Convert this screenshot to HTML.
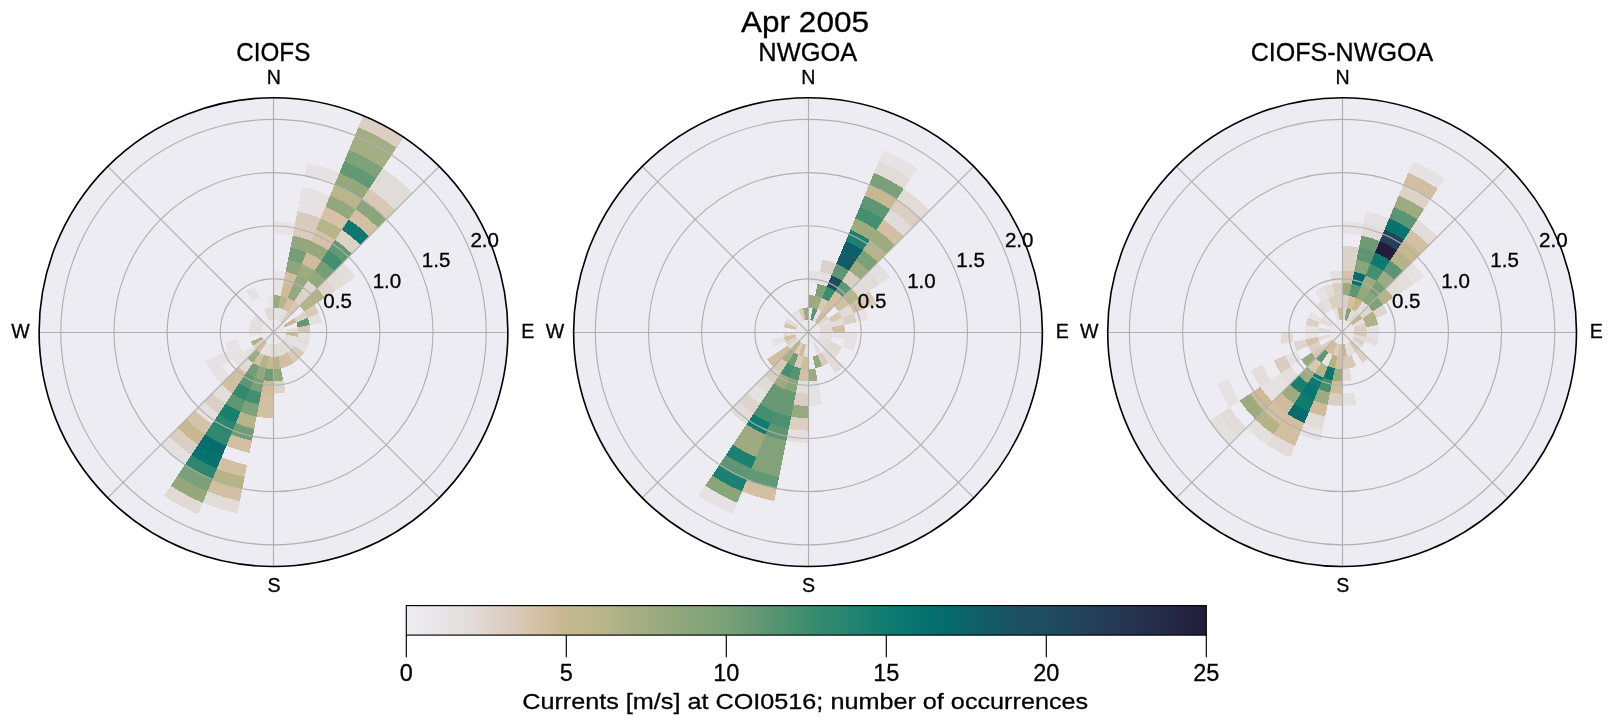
<!DOCTYPE html>
<html><head><meta charset="utf-8"><style>html,body{margin:0;padding:0;background:#fff;overflow:hidden}svg{display:block;will-change:transform}text{fill:#000;stroke:#000;stroke-width:0.3px;font-family:"Liberation Sans",sans-serif}</style></head>
<body><svg width="1611" height="724" viewBox="0 0 1611 724" font-family="Liberation Sans, sans-serif">
<text x="805" y="32.2" font-size="30" text-anchor="middle" textLength="128" lengthAdjust="spacingAndGlyphs">Apr 2005</text>
<circle cx="273.5" cy="332.1" r="234.4" fill="#edecf2"/>
<g shape-rendering="crispEdges">
<path d="M273.50 319.79L273.50 307.47A24.63 24.63 0 0 1 278.30 307.94L275.90 320.02A12.31 12.31 0 0 0 273.50 319.79Z" fill="#e6e2e3"/>
<path d="M273.50 307.47L273.50 295.16A36.94 36.94 0 0 1 280.71 295.87L278.30 307.94A24.63 24.63 0 0 0 273.50 307.47Z" fill="#98aa7f"/>
<path d="M273.50 295.16L273.50 282.84A49.26 49.26 0 0 1 283.11 283.79L280.71 295.87A36.94 36.94 0 0 0 273.50 295.16Z" fill="#e7e3e5"/>
<path d="M273.50 282.84L273.50 270.53A61.57 61.57 0 0 1 285.51 271.71L283.11 283.79A49.26 49.26 0 0 0 273.50 282.84Z" fill="#e8e5e8"/>
<path d="M273.50 233.59L273.50 221.27A110.83 110.83 0 0 1 295.12 223.40L292.72 235.48A98.51 98.51 0 0 0 273.50 233.59Z" fill="#e7e3e5"/>
<path d="M275.90 320.02L278.30 307.94A24.63 24.63 0 0 1 282.92 309.35L278.21 320.72A12.31 12.31 0 0 0 275.90 320.02Z" fill="#e6e2e3"/>
<path d="M278.30 307.94L280.71 295.87A36.94 36.94 0 0 1 287.64 297.97L282.92 309.35A24.63 24.63 0 0 0 278.30 307.94Z" fill="#bbb58b"/>
<path d="M280.71 295.87L283.11 283.79A49.26 49.26 0 0 1 292.35 286.59L287.64 297.97A36.94 36.94 0 0 0 280.71 295.87Z" fill="#cebb98"/>
<path d="M283.11 283.79L285.51 271.71A61.57 61.57 0 0 1 297.06 275.22L292.35 286.59A49.26 49.26 0 0 0 283.11 283.79Z" fill="#d2bea0"/>
<path d="M285.51 271.71L287.91 259.63A73.89 73.89 0 0 1 301.77 263.84L297.06 275.22A61.57 61.57 0 0 0 285.51 271.71Z" fill="#8da67c"/>
<path d="M287.91 259.63L290.32 247.56A86.20 86.20 0 0 1 306.49 252.46L301.77 263.84A73.89 73.89 0 0 0 287.91 259.63Z" fill="#759e76"/>
<path d="M290.32 247.56L292.72 235.48A98.51 98.51 0 0 1 311.20 241.09L306.49 252.46A86.20 86.20 0 0 0 290.32 247.56Z" fill="#94a87e"/>
<path d="M292.72 235.48L295.12 223.40A110.83 110.83 0 0 1 315.91 229.71L311.20 241.09A98.51 98.51 0 0 0 292.72 235.48Z" fill="#daccbe"/>
<path d="M295.12 223.40L297.52 211.32A123.14 123.14 0 0 1 320.62 218.33L315.91 229.71A110.83 110.83 0 0 0 295.12 223.40Z" fill="#d9cbbc"/>
<path d="M297.52 211.32L299.93 199.25A135.46 135.46 0 0 1 325.34 206.95L320.62 218.33A123.14 123.14 0 0 0 297.52 211.32Z" fill="#e6e2e3"/>
<path d="M299.93 199.25L302.33 187.17A147.77 147.77 0 0 1 330.05 195.58L325.34 206.95A135.46 135.46 0 0 0 299.93 199.25Z" fill="#e6e2e3"/>
<path d="M304.73 175.09L307.13 163.01A172.40 172.40 0 0 1 339.47 172.82L334.76 184.20A160.08 160.08 0 0 0 304.73 175.09Z" fill="#e6e2e3"/>
<path d="M278.21 320.72L282.92 309.35A24.63 24.63 0 0 1 287.18 311.62L280.34 321.86A12.31 12.31 0 0 0 278.21 320.72Z" fill="#e5e0e0"/>
<path d="M282.92 309.35L287.64 297.97A36.94 36.94 0 0 1 294.02 301.38L287.18 311.62A24.63 24.63 0 0 0 282.92 309.35Z" fill="#d3c0a2"/>
<path d="M287.64 297.97L292.35 286.59A49.26 49.26 0 0 1 300.87 291.14L294.02 301.38A36.94 36.94 0 0 0 287.64 297.97Z" fill="#94a87e"/>
<path d="M292.35 286.59L297.06 275.22A61.57 61.57 0 0 1 307.71 280.91L300.87 291.14A49.26 49.26 0 0 0 292.35 286.59Z" fill="#95a97e"/>
<path d="M297.06 275.22L301.77 263.84A73.89 73.89 0 0 1 314.55 270.67L307.71 280.91A61.57 61.57 0 0 0 297.06 275.22Z" fill="#9eab81"/>
<path d="M301.77 263.84L306.49 252.46A86.20 86.20 0 0 1 321.39 260.43L314.55 270.67A73.89 73.89 0 0 0 301.77 263.84Z" fill="#d0bc9a"/>
<path d="M306.49 252.46L311.20 241.09A98.51 98.51 0 0 1 328.23 250.19L321.39 260.43A86.20 86.20 0 0 0 306.49 252.46Z" fill="#94a87e"/>
<path d="M311.20 241.09L315.91 229.71A110.83 110.83 0 0 1 335.07 239.95L328.23 250.19A98.51 98.51 0 0 0 311.20 241.09Z" fill="#d5c2a8"/>
<path d="M315.91 229.71L320.62 218.33A123.14 123.14 0 0 1 341.91 229.71L335.07 239.95A110.83 110.83 0 0 0 315.91 229.71Z" fill="#b7b48a"/>
<path d="M320.62 218.33L325.34 206.95A135.46 135.46 0 0 1 348.76 219.47L341.91 229.71A123.14 123.14 0 0 0 320.62 218.33Z" fill="#d5c2a8"/>
<path d="M325.34 206.95L330.05 195.58A147.77 147.77 0 0 1 355.60 209.23L348.76 219.47A135.46 135.46 0 0 0 325.34 206.95Z" fill="#94a87e"/>
<path d="M330.05 195.58L334.76 184.20A160.08 160.08 0 0 1 362.44 198.99L355.60 209.23A147.77 147.77 0 0 0 330.05 195.58Z" fill="#bbb58b"/>
<path d="M334.76 184.20L339.47 172.82A172.40 172.40 0 0 1 369.28 188.76L362.44 198.99A160.08 160.08 0 0 0 334.76 184.20Z" fill="#94a87e"/>
<path d="M339.47 172.82L344.19 161.45A184.71 184.71 0 0 1 376.12 178.52L369.28 188.76A172.40 172.40 0 0 0 339.47 172.82Z" fill="#639874"/>
<path d="M344.19 161.45L348.90 150.07A197.03 197.03 0 0 1 382.96 168.28L376.12 178.52A184.71 184.71 0 0 0 344.19 161.45Z" fill="#7da178"/>
<path d="M348.90 150.07L353.61 138.69A209.34 209.34 0 0 1 389.80 158.04L382.96 168.28A197.03 197.03 0 0 0 348.90 150.07Z" fill="#a4ad83"/>
<path d="M353.61 138.69L358.32 127.32A221.66 221.66 0 0 1 396.65 147.80L389.80 158.04A209.34 209.34 0 0 0 353.61 138.69Z" fill="#a4ad83"/>
<path d="M358.32 127.32L363.04 115.94A233.97 233.97 0 0 1 403.49 137.56L396.65 147.80A221.66 221.66 0 0 0 358.32 127.32Z" fill="#dbcfc4"/>
<path d="M280.34 321.86L287.18 311.62A24.63 24.63 0 0 1 290.91 314.69L282.21 323.39A12.31 12.31 0 0 0 280.34 321.86Z" fill="#dbcfc4"/>
<path d="M287.18 311.62L294.02 301.38A36.94 36.94 0 0 1 299.62 305.98L290.91 314.69A24.63 24.63 0 0 0 287.18 311.62Z" fill="#d7c6b0"/>
<path d="M294.02 301.38L300.87 291.14A49.26 49.26 0 0 1 308.33 297.27L299.62 305.98A36.94 36.94 0 0 0 294.02 301.38Z" fill="#dcd2c8"/>
<path d="M300.87 291.14L307.71 280.91A61.57 61.57 0 0 1 317.04 288.56L308.33 297.27A49.26 49.26 0 0 0 300.87 291.14Z" fill="#ded6ce"/>
<path d="M307.71 280.91L314.55 270.67A73.89 73.89 0 0 1 325.74 279.86L317.04 288.56A61.57 61.57 0 0 0 307.71 280.91Z" fill="#94a87e"/>
<path d="M314.55 270.67L321.39 260.43A86.20 86.20 0 0 1 334.45 271.15L325.74 279.86A73.89 73.89 0 0 0 314.55 270.67Z" fill="#759e76"/>
<path d="M321.39 260.43L328.23 250.19A98.51 98.51 0 0 1 343.16 262.44L334.45 271.15A86.20 86.20 0 0 0 321.39 260.43Z" fill="#438f70"/>
<path d="M328.23 250.19L335.07 239.95A110.83 110.83 0 0 1 351.87 253.73L343.16 262.44A98.51 98.51 0 0 0 328.23 250.19Z" fill="#639874"/>
<path d="M335.07 239.95L341.91 229.71A123.14 123.14 0 0 1 360.57 245.03L351.87 253.73A110.83 110.83 0 0 0 335.07 239.95Z" fill="#dcd2c8"/>
<path d="M341.91 229.71L348.76 219.47A135.46 135.46 0 0 1 369.28 236.32L360.57 245.03A123.14 123.14 0 0 0 341.91 229.71Z" fill="#0b7870"/>
<path d="M348.76 219.47L355.60 209.23A147.77 147.77 0 0 1 377.99 227.61L369.28 236.32A135.46 135.46 0 0 0 348.76 219.47Z" fill="#d3c0a2"/>
<path d="M355.60 209.23L362.44 198.99A160.08 160.08 0 0 1 386.70 218.90L377.99 227.61A147.77 147.77 0 0 0 355.60 209.23Z" fill="#89a57a"/>
<path d="M362.44 198.99L369.28 188.76A172.40 172.40 0 0 1 395.40 210.20L386.70 218.90A160.08 160.08 0 0 0 362.44 198.99Z" fill="#d8c8b6"/>
<path d="M369.28 188.76L376.12 178.52A184.71 184.71 0 0 1 404.11 201.49L395.40 210.20A172.40 172.40 0 0 0 369.28 188.76Z" fill="#e2dcd8"/>
<path d="M376.12 178.52L382.96 168.28A197.03 197.03 0 0 1 412.82 192.78L404.11 201.49A184.71 184.71 0 0 0 376.12 178.52Z" fill="#e2dcd8"/>
<path d="M299.62 305.98L308.33 297.27A49.26 49.26 0 0 1 314.46 304.73L304.22 311.58A36.94 36.94 0 0 0 299.62 305.98Z" fill="#b7b48a"/>
<path d="M308.33 297.27L317.04 288.56A61.57 61.57 0 0 1 324.69 297.89L314.46 304.73A49.26 49.26 0 0 0 308.33 297.27Z" fill="#b2b288"/>
<path d="M317.04 288.56L325.74 279.86A73.89 73.89 0 0 1 334.93 291.05L324.69 297.89A61.57 61.57 0 0 0 317.04 288.56Z" fill="#ded6ce"/>
<path d="M325.74 279.86L334.45 271.15A86.20 86.20 0 0 1 345.17 284.21L334.93 291.05A73.89 73.89 0 0 0 325.74 279.86Z" fill="#e2dcd8"/>
<path d="M334.45 271.15L343.16 262.44A98.51 98.51 0 0 1 355.41 277.37L345.17 284.21A86.20 86.20 0 0 0 334.45 271.15Z" fill="#e3dedb"/>
<path d="M283.74 325.26L293.98 318.42A24.63 24.63 0 0 1 296.25 322.68L284.88 327.39A12.31 12.31 0 0 0 283.74 325.26Z" fill="#c7b890"/>
<path d="M304.22 311.58L314.46 304.73A49.26 49.26 0 0 1 319.01 313.25L307.63 317.96A36.94 36.94 0 0 0 304.22 311.58Z" fill="#d9cbbc"/>
<path d="M296.25 322.68L307.63 317.96A36.94 36.94 0 0 1 309.73 324.89L297.66 327.30A24.63 24.63 0 0 0 296.25 322.68Z" fill="#639874"/>
<path d="M307.63 317.96L319.01 313.25A49.26 49.26 0 0 1 321.81 322.49L309.73 324.89A36.94 36.94 0 0 0 307.63 317.96Z" fill="#e5e0e0"/>
<path d="M297.66 327.30L309.73 324.89A36.94 36.94 0 0 1 310.44 332.10L298.13 332.10A24.63 24.63 0 0 0 297.66 327.30Z" fill="#d8c8b6"/>
<path d="M285.81 332.10L298.13 332.10A24.63 24.63 0 0 1 297.66 336.90L285.58 334.50A12.31 12.31 0 0 0 285.81 332.10Z" fill="#cbba94"/>
<path d="M298.13 332.10L310.44 332.10A36.94 36.94 0 0 1 309.73 339.31L297.66 336.90A24.63 24.63 0 0 0 298.13 332.10Z" fill="#e5e0e0"/>
<path d="M285.58 334.50L297.66 336.90A24.63 24.63 0 0 1 296.25 341.52L284.88 336.81A12.31 12.31 0 0 0 285.58 334.50Z" fill="#e5e0e0"/>
<path d="M297.66 336.90L309.73 339.31A36.94 36.94 0 0 1 307.63 346.24L296.25 341.52A24.63 24.63 0 0 0 297.66 336.90Z" fill="#e3dedb"/>
<path d="M284.88 336.81L296.25 341.52A24.63 24.63 0 0 1 293.98 345.78L283.74 338.94A12.31 12.31 0 0 0 284.88 336.81Z" fill="#e5e0e0"/>
<path d="M296.25 341.52L307.63 346.24A36.94 36.94 0 0 1 304.22 352.62L293.98 345.78A24.63 24.63 0 0 0 296.25 341.52Z" fill="#e6e2e3"/>
<path d="M283.74 338.94L293.98 345.78A24.63 24.63 0 0 1 290.91 349.51L282.21 340.81A12.31 12.31 0 0 0 283.74 338.94Z" fill="#e2dcd8"/>
<path d="M293.98 345.78L304.22 352.62A36.94 36.94 0 0 1 299.62 358.22L290.91 349.51A24.63 24.63 0 0 0 293.98 345.78Z" fill="#d9cbbc"/>
<path d="M282.21 340.81L290.91 349.51A24.63 24.63 0 0 1 287.18 352.58L280.34 342.34A12.31 12.31 0 0 0 282.21 340.81Z" fill="#e3dedb"/>
<path d="M290.91 349.51L299.62 358.22A36.94 36.94 0 0 1 294.02 362.82L287.18 352.58A24.63 24.63 0 0 0 290.91 349.51Z" fill="#d9cbbc"/>
<path d="M280.34 342.34L287.18 352.58A24.63 24.63 0 0 1 282.92 354.85L278.21 343.48A12.31 12.31 0 0 0 280.34 342.34Z" fill="#e1d9d4"/>
<path d="M287.18 352.58L294.02 362.82A36.94 36.94 0 0 1 287.64 366.23L282.92 354.85A24.63 24.63 0 0 0 287.18 352.58Z" fill="#d2bea0"/>
<path d="M278.21 343.48L282.92 354.85A24.63 24.63 0 0 1 278.30 356.26L275.90 344.18A12.31 12.31 0 0 0 278.21 343.48Z" fill="#e2dcd8"/>
<path d="M282.92 354.85L287.64 366.23A36.94 36.94 0 0 1 280.71 368.33L278.30 356.26A24.63 24.63 0 0 0 282.92 354.85Z" fill="#d2bea0"/>
<path d="M275.90 344.18L278.30 356.26A24.63 24.63 0 0 1 273.50 356.73L273.50 344.41A12.31 12.31 0 0 0 275.90 344.18Z" fill="#e1d9d4"/>
<path d="M278.30 356.26L280.71 368.33A36.94 36.94 0 0 1 273.50 369.04L273.50 356.73A24.63 24.63 0 0 0 278.30 356.26Z" fill="#b7b48a"/>
<path d="M280.71 368.33L283.11 380.41A49.26 49.26 0 0 1 273.50 381.36L273.50 369.04A36.94 36.94 0 0 0 280.71 368.33Z" fill="#94a87e"/>
<path d="M283.11 380.41L285.51 392.49A61.57 61.57 0 0 1 273.50 393.67L273.50 381.36A49.26 49.26 0 0 0 283.11 380.41Z" fill="#dcd2c8"/>
<path d="M273.50 344.41L273.50 356.73A24.63 24.63 0 0 1 268.70 356.26L271.10 344.18A12.31 12.31 0 0 0 273.50 344.41Z" fill="#e2dcd8"/>
<path d="M273.50 356.73L273.50 369.04A36.94 36.94 0 0 1 266.29 368.33L268.70 356.26A24.63 24.63 0 0 0 273.50 356.73Z" fill="#c7b890"/>
<path d="M273.50 369.04L273.50 381.36A49.26 49.26 0 0 1 263.89 380.41L266.29 368.33A36.94 36.94 0 0 0 273.50 369.04Z" fill="#6e9c75"/>
<path d="M273.50 381.36L273.50 393.67A61.57 61.57 0 0 1 261.49 392.49L263.89 380.41A49.26 49.26 0 0 0 273.50 381.36Z" fill="#d0bc9a"/>
<path d="M273.50 393.67L273.50 405.99A73.89 73.89 0 0 1 259.09 404.57L261.49 392.49A61.57 61.57 0 0 0 273.50 393.67Z" fill="#d3c0a2"/>
<path d="M273.50 405.99L273.50 418.30A86.20 86.20 0 0 1 256.68 416.64L259.09 404.57A73.89 73.89 0 0 0 273.50 405.99Z" fill="#d3c0a2"/>
<path d="M271.10 344.18L268.70 356.26A24.63 24.63 0 0 1 264.08 354.85L268.79 343.48A12.31 12.31 0 0 0 271.10 344.18Z" fill="#e5e0e0"/>
<path d="M268.70 356.26L266.29 368.33A36.94 36.94 0 0 1 259.36 366.23L264.08 354.85A24.63 24.63 0 0 0 268.70 356.26Z" fill="#b2b288"/>
<path d="M266.29 368.33L263.89 380.41A49.26 49.26 0 0 1 254.65 377.61L259.36 366.23A36.94 36.94 0 0 0 266.29 368.33Z" fill="#94a87e"/>
<path d="M263.89 380.41L261.49 392.49A61.57 61.57 0 0 1 249.94 388.98L254.65 377.61A49.26 49.26 0 0 0 263.89 380.41Z" fill="#79a077"/>
<path d="M261.49 392.49L259.09 404.57A73.89 73.89 0 0 1 245.23 400.36L249.94 388.98A61.57 61.57 0 0 0 261.49 392.49Z" fill="#438f70"/>
<path d="M259.09 404.57L256.68 416.64A86.20 86.20 0 0 1 240.51 411.74L245.23 400.36A73.89 73.89 0 0 0 259.09 404.57Z" fill="#7da178"/>
<path d="M256.68 416.64L254.28 428.72A98.51 98.51 0 0 1 235.80 423.11L240.51 411.74A86.20 86.20 0 0 0 256.68 416.64Z" fill="#b7b48a"/>
<path d="M254.28 428.72L251.88 440.80A110.83 110.83 0 0 1 231.09 434.49L235.80 423.11A98.51 98.51 0 0 0 254.28 428.72Z" fill="#719d76"/>
<path d="M251.88 440.80L249.48 452.88A123.14 123.14 0 0 1 226.38 445.87L231.09 434.49A110.83 110.83 0 0 0 251.88 440.80Z" fill="#d3c0a2"/>
<path d="M247.07 464.95L244.67 477.03A147.77 147.77 0 0 1 216.95 468.62L221.66 457.25A135.46 135.46 0 0 0 247.07 464.95Z" fill="#d3c0a2"/>
<path d="M244.67 477.03L242.27 489.11A160.08 160.08 0 0 1 212.24 480.00L216.95 468.62A147.77 147.77 0 0 0 244.67 477.03Z" fill="#b6b389"/>
<path d="M242.27 489.11L239.87 501.19A172.40 172.40 0 0 1 207.53 491.38L212.24 480.00A160.08 160.08 0 0 0 242.27 489.11Z" fill="#d3c0a2"/>
<path d="M239.87 501.19L237.46 513.26A184.71 184.71 0 0 1 202.81 502.75L207.53 491.38A172.40 172.40 0 0 0 239.87 501.19Z" fill="#e2dcd8"/>
<path d="M268.79 343.48L264.08 354.85A24.63 24.63 0 0 1 259.82 352.58L266.66 342.34A12.31 12.31 0 0 0 268.79 343.48Z" fill="#e6e2e3"/>
<path d="M264.08 354.85L259.36 366.23A36.94 36.94 0 0 1 252.98 362.82L259.82 352.58A24.63 24.63 0 0 0 264.08 354.85Z" fill="#d3c0a2"/>
<path d="M259.36 366.23L254.65 377.61A49.26 49.26 0 0 1 246.13 373.06L252.98 362.82A36.94 36.94 0 0 0 259.36 366.23Z" fill="#759e76"/>
<path d="M254.65 377.61L249.94 388.98A61.57 61.57 0 0 1 239.29 383.29L246.13 373.06A49.26 49.26 0 0 0 254.65 377.61Z" fill="#5e9673"/>
<path d="M249.94 388.98L245.23 400.36A73.89 73.89 0 0 1 232.45 393.53L239.29 383.29A61.57 61.57 0 0 0 249.94 388.98Z" fill="#33896f"/>
<path d="M245.23 400.36L240.51 411.74A86.20 86.20 0 0 1 225.61 403.77L232.45 393.53A73.89 73.89 0 0 0 245.23 400.36Z" fill="#5e9673"/>
<path d="M240.51 411.74L235.80 423.11A98.51 98.51 0 0 1 218.77 414.01L225.61 403.77A86.20 86.20 0 0 0 240.51 411.74Z" fill="#198070"/>
<path d="M235.80 423.11L231.09 434.49A110.83 110.83 0 0 1 211.93 424.25L218.77 414.01A98.51 98.51 0 0 0 235.80 423.11Z" fill="#2c876f"/>
<path d="M231.09 434.49L226.38 445.87A123.14 123.14 0 0 1 205.09 434.49L211.93 424.25A110.83 110.83 0 0 0 231.09 434.49Z" fill="#30886f"/>
<path d="M226.38 445.87L221.66 457.25A135.46 135.46 0 0 1 198.24 444.73L205.09 434.49A123.14 123.14 0 0 0 226.38 445.87Z" fill="#066c6e"/>
<path d="M221.66 457.25L216.95 468.62A147.77 147.77 0 0 1 191.40 454.97L198.24 444.73A135.46 135.46 0 0 0 221.66 457.25Z" fill="#077370"/>
<path d="M216.95 468.62L212.24 480.00A160.08 160.08 0 0 1 184.56 465.21L191.40 454.97A147.77 147.77 0 0 0 216.95 468.62Z" fill="#2d876f"/>
<path d="M212.24 480.00L207.53 491.38A172.40 172.40 0 0 1 177.72 475.44L184.56 465.21A160.08 160.08 0 0 0 212.24 480.00Z" fill="#79a077"/>
<path d="M207.53 491.38L202.81 502.75A184.71 184.71 0 0 1 170.88 485.68L177.72 475.44A172.40 172.40 0 0 0 207.53 491.38Z" fill="#94a87e"/>
<path d="M202.81 502.75L198.10 514.13A197.03 197.03 0 0 1 164.04 495.92L170.88 485.68A184.71 184.71 0 0 0 202.81 502.75Z" fill="#e1d9d4"/>
<path d="M266.66 342.34L259.82 352.58A24.63 24.63 0 0 1 256.09 349.51L264.79 340.81A12.31 12.31 0 0 0 266.66 342.34Z" fill="#d2bea0"/>
<path d="M259.82 352.58L252.98 362.82A36.94 36.94 0 0 1 247.38 358.22L256.09 349.51A24.63 24.63 0 0 0 259.82 352.58Z" fill="#9eab81"/>
<path d="M252.98 362.82L246.13 373.06A49.26 49.26 0 0 1 238.67 366.93L247.38 358.22A36.94 36.94 0 0 0 252.98 362.82Z" fill="#e1d9d4"/>
<path d="M246.13 373.06L239.29 383.29A61.57 61.57 0 0 1 229.96 375.64L238.67 366.93A49.26 49.26 0 0 0 246.13 373.06Z" fill="#d3c0a2"/>
<path d="M239.29 383.29L232.45 393.53A73.89 73.89 0 0 1 221.26 384.34L229.96 375.64A61.57 61.57 0 0 0 239.29 383.29Z" fill="#d2bea0"/>
<path d="M232.45 393.53L225.61 403.77A86.20 86.20 0 0 1 212.55 393.05L221.26 384.34A73.89 73.89 0 0 0 232.45 393.53Z" fill="#e3dedb"/>
<path d="M225.61 403.77L218.77 414.01A98.51 98.51 0 0 1 203.84 401.76L212.55 393.05A86.20 86.20 0 0 0 225.61 403.77Z" fill="#dbcfc4"/>
<path d="M218.77 414.01L211.93 424.25A110.83 110.83 0 0 1 195.13 410.47L203.84 401.76A98.51 98.51 0 0 0 218.77 414.01Z" fill="#e5e0e0"/>
<path d="M211.93 424.25L205.09 434.49A123.14 123.14 0 0 1 186.43 419.17L195.13 410.47A110.83 110.83 0 0 0 211.93 424.25Z" fill="#d5c2a8"/>
<path d="M205.09 434.49L198.24 444.73A135.46 135.46 0 0 1 177.72 427.88L186.43 419.17A123.14 123.14 0 0 0 205.09 434.49Z" fill="#c7b890"/>
<path d="M198.24 444.73L191.40 454.97A147.77 147.77 0 0 1 169.01 436.59L177.72 427.88A135.46 135.46 0 0 0 198.24 444.73Z" fill="#dbcfc4"/>
<path d="M191.40 454.97L184.56 465.21A160.08 160.08 0 0 1 160.30 445.30L169.01 436.59A147.77 147.77 0 0 0 191.40 454.97Z" fill="#e5e0e0"/>
<path d="M264.79 340.81L256.09 349.51A24.63 24.63 0 0 1 253.02 345.78L263.26 338.94A12.31 12.31 0 0 0 264.79 340.81Z" fill="#dbcfc4"/>
<path d="M256.09 349.51L247.38 358.22A36.94 36.94 0 0 1 242.78 352.62L253.02 345.78A24.63 24.63 0 0 0 256.09 349.51Z" fill="#e5e0e0"/>
<path d="M229.96 375.64L221.26 384.34A73.89 73.89 0 0 1 212.07 373.15L222.31 366.31A61.57 61.57 0 0 0 229.96 375.64Z" fill="#e6e2e3"/>
<path d="M263.26 338.94L253.02 345.78A24.63 24.63 0 0 1 250.75 341.52L262.12 336.81A12.31 12.31 0 0 0 263.26 338.94Z" fill="#b2b288"/>
<path d="M242.78 352.62L232.54 359.47A49.26 49.26 0 0 1 227.99 350.95L239.37 346.24A36.94 36.94 0 0 0 242.78 352.62Z" fill="#e7e3e5"/>
<path d="M232.54 359.47L222.31 366.31A61.57 61.57 0 0 1 216.62 355.66L227.99 350.95A49.26 49.26 0 0 0 232.54 359.47Z" fill="#e6e2e3"/>
<path d="M222.31 366.31L212.07 373.15A73.89 73.89 0 0 1 205.24 360.37L216.62 355.66A61.57 61.57 0 0 0 222.31 366.31Z" fill="#e6e2e3"/>
<path d="M239.37 346.24L227.99 350.95A49.26 49.26 0 0 1 225.19 341.71L237.27 339.31A36.94 36.94 0 0 0 239.37 346.24Z" fill="#e7e3e5"/>
<path d="M261.42 334.50L249.34 336.90A24.63 24.63 0 0 1 248.87 332.10L261.19 332.10A12.31 12.31 0 0 0 261.42 334.50Z" fill="#e8e5e8"/>
<path d="M261.19 332.10L248.87 332.10A24.63 24.63 0 0 1 249.34 327.30L261.42 329.70A12.31 12.31 0 0 0 261.19 332.10Z" fill="#e5e0e0"/>
<path d="M261.42 329.70L249.34 327.30A24.63 24.63 0 0 1 250.75 322.68L262.12 327.39A12.31 12.31 0 0 0 261.42 329.70Z" fill="#e3dedb"/>
<path d="M262.12 327.39L250.75 322.68A24.63 24.63 0 0 1 253.02 318.42L263.26 325.26A12.31 12.31 0 0 0 262.12 327.39Z" fill="#e5e0e0"/>
<path d="M263.26 325.26L253.02 318.42A24.63 24.63 0 0 1 256.09 314.69L264.79 323.39A12.31 12.31 0 0 0 263.26 325.26Z" fill="#e5e0e0"/>
<path d="M252.98 301.38L246.13 291.14A49.26 49.26 0 0 1 254.65 286.59L259.36 297.97A36.94 36.94 0 0 0 252.98 301.38Z" fill="#e6e2e3"/>
<path d="M268.79 320.72L264.08 309.35A24.63 24.63 0 0 1 268.70 307.94L271.10 320.02A12.31 12.31 0 0 0 268.79 320.72Z" fill="#e1d9d4"/>
<path d="M271.10 320.02L268.70 307.94A24.63 24.63 0 0 1 273.50 307.47L273.50 319.79A12.31 12.31 0 0 0 271.10 320.02Z" fill="#e2dcd8"/>
<path d="M268.70 307.94L266.29 295.87A36.94 36.94 0 0 1 273.50 295.16L273.50 307.47A24.63 24.63 0 0 0 268.70 307.94Z" fill="#e8e5e8"/>
<path d="M273.50 332.10L273.50 319.79A12.31 12.31 0 0 1 275.90 320.02L273.50 332.10Z" fill="#e9e7ea"/>
<path d="M273.50 332.10L275.90 320.02A12.31 12.31 0 0 1 278.21 320.72L273.50 332.10Z" fill="#e9e7ea"/>
<path d="M273.50 332.10L278.21 320.72A12.31 12.31 0 0 1 280.34 321.86L273.50 332.10Z" fill="#e9e7ea"/>
<path d="M273.50 332.10L280.34 321.86A12.31 12.31 0 0 1 282.21 323.39L273.50 332.10Z" fill="#e9e7ea"/>
<path d="M273.50 332.10L282.21 323.39A12.31 12.31 0 0 1 283.74 325.26L273.50 332.10Z" fill="#e9e7ea"/>
<path d="M273.50 332.10L283.74 325.26A12.31 12.31 0 0 1 284.88 327.39L273.50 332.10Z" fill="#e9e7ea"/>
<path d="M273.50 332.10L284.88 327.39A12.31 12.31 0 0 1 285.58 329.70L273.50 332.10Z" fill="#e9e7ea"/>
<path d="M273.50 332.10L285.58 329.70A12.31 12.31 0 0 1 285.81 332.10L273.50 332.10Z" fill="#e9e7ea"/>
<path d="M273.50 332.10L285.81 332.10A12.31 12.31 0 0 1 285.58 334.50L273.50 332.10Z" fill="#e9e7ea"/>
<path d="M273.50 332.10L285.58 334.50A12.31 12.31 0 0 1 284.88 336.81L273.50 332.10Z" fill="#e9e7ea"/>
<path d="M273.50 332.10L284.88 336.81A12.31 12.31 0 0 1 283.74 338.94L273.50 332.10Z" fill="#e9e7ea"/>
<path d="M273.50 332.10L283.74 338.94A12.31 12.31 0 0 1 282.21 340.81L273.50 332.10Z" fill="#e9e7ea"/>
<path d="M273.50 332.10L282.21 340.81A12.31 12.31 0 0 1 280.34 342.34L273.50 332.10Z" fill="#e9e7ea"/>
<path d="M273.50 332.10L280.34 342.34A12.31 12.31 0 0 1 278.21 343.48L273.50 332.10Z" fill="#e9e7ea"/>
<path d="M273.50 332.10L278.21 343.48A12.31 12.31 0 0 1 275.90 344.18L273.50 332.10Z" fill="#e9e7ea"/>
<path d="M273.50 332.10L275.90 344.18A12.31 12.31 0 0 1 273.50 344.41L273.50 332.10Z" fill="#e9e7ea"/>
<path d="M273.50 332.10L273.50 344.41A12.31 12.31 0 0 1 271.10 344.18L273.50 332.10Z" fill="#e9e7ea"/>
<path d="M273.50 332.10L271.10 344.18A12.31 12.31 0 0 1 268.79 343.48L273.50 332.10Z" fill="#e9e7ea"/>
<path d="M273.50 332.10L268.79 343.48A12.31 12.31 0 0 1 266.66 342.34L273.50 332.10Z" fill="#e9e7ea"/>
<path d="M273.50 332.10L266.66 342.34A12.31 12.31 0 0 1 264.79 340.81L273.50 332.10Z" fill="#e9e7ea"/>
<path d="M273.50 332.10L264.79 340.81A12.31 12.31 0 0 1 263.26 338.94L273.50 332.10Z" fill="#e9e7ea"/>
<path d="M273.50 332.10L263.26 338.94A12.31 12.31 0 0 1 262.12 336.81L273.50 332.10Z" fill="#e9e7ea"/>
<path d="M273.50 332.10L262.12 336.81A12.31 12.31 0 0 1 261.42 334.50L273.50 332.10Z" fill="#e9e7ea"/>
<path d="M273.50 332.10L261.42 334.50A12.31 12.31 0 0 1 261.19 332.10L273.50 332.10Z" fill="#e9e7ea"/>
<path d="M273.50 332.10L261.19 332.10A12.31 12.31 0 0 1 261.42 329.70L273.50 332.10Z" fill="#e9e7ea"/>
<path d="M273.50 332.10L261.42 329.70A12.31 12.31 0 0 1 262.12 327.39L273.50 332.10Z" fill="#e9e7ea"/>
<path d="M273.50 332.10L262.12 327.39A12.31 12.31 0 0 1 263.26 325.26L273.50 332.10Z" fill="#e9e7ea"/>
<path d="M273.50 332.10L263.26 325.26A12.31 12.31 0 0 1 264.79 323.39L273.50 332.10Z" fill="#e9e7ea"/>
<path d="M273.50 332.10L264.79 323.39A12.31 12.31 0 0 1 266.66 321.86L273.50 332.10Z" fill="#e9e7ea"/>
<path d="M273.50 332.10L266.66 321.86A12.31 12.31 0 0 1 268.79 320.72L273.50 332.10Z" fill="#e9e7ea"/>
<path d="M273.50 332.10L268.79 320.72A12.31 12.31 0 0 1 271.10 320.02L273.50 332.10Z" fill="#e9e7ea"/>
<path d="M273.50 332.10L271.10 320.02A12.31 12.31 0 0 1 273.50 319.79L273.50 332.10Z" fill="#e9e7ea"/>
<path d="M285.58 329.70L297.66 327.30A24.63 24.63 0 0 1 298.13 332.10L285.81 332.10A12.31 12.31 0 0 0 285.58 329.70Z" fill="#e2dcd8"/>
<path d="M247.38 358.22L238.67 366.93A49.26 49.26 0 0 1 232.54 359.47L242.78 352.62A36.94 36.94 0 0 0 247.38 358.22Z" fill="#e6e2e3"/>
<path d="M293.98 318.42L304.22 311.58A36.94 36.94 0 0 1 307.63 317.96L296.25 322.68A24.63 24.63 0 0 0 293.98 318.42Z" fill="#dcd2c8"/>
</g>
<circle cx="273.5" cy="332.1" r="53.17" fill="none" stroke="#b0b0b0" stroke-width="1.15"/>
<circle cx="273.5" cy="332.1" r="106.35" fill="none" stroke="#b0b0b0" stroke-width="1.15"/>
<circle cx="273.5" cy="332.1" r="159.52" fill="none" stroke="#b0b0b0" stroke-width="1.15"/>
<circle cx="273.5" cy="332.1" r="212.70" fill="none" stroke="#b0b0b0" stroke-width="1.15"/>
<line x1="39.10" y1="332.5" x2="507.90" y2="332.5" stroke="#b0b0b0" stroke-width="1.15"/>
<line x1="273.5" y1="97.70" x2="273.5" y2="566.50" stroke="#b0b0b0" stroke-width="1.15"/>
<line x1="273.5" y1="332.1" x2="439.25" y2="166.35" stroke="#b0b0b0" stroke-width="1.15"/>
<line x1="273.5" y1="332.1" x2="439.25" y2="497.85" stroke="#b0b0b0" stroke-width="1.15"/>
<line x1="273.5" y1="332.1" x2="107.75" y2="497.85" stroke="#b0b0b0" stroke-width="1.15"/>
<line x1="273.5" y1="332.1" x2="107.75" y2="166.35" stroke="#b0b0b0" stroke-width="1.15"/>
<circle cx="273.5" cy="332.1" r="234.4" fill="none" stroke="#000" stroke-width="1.6"/>
<text x="273.3" y="61.0" font-size="25.5" text-anchor="middle" textLength="74" lengthAdjust="spacingAndGlyphs">CIOFS</text>
<text x="273.95" y="83.9" font-size="19.6" text-anchor="middle">N</text>
<text x="274.1" y="591.8" font-size="19.6" text-anchor="middle">S</text>
<text x="527.7" y="338.0" font-size="19.6" text-anchor="middle">E</text>
<text x="20.599999999999994" y="337.7" font-size="19.6" text-anchor="middle">W</text>
<text x="337.6" y="307.7" font-size="19.6" text-anchor="middle" textLength="28.6" lengthAdjust="spacingAndGlyphs">0.5</text>
<text x="387.0" y="287.7" font-size="19.6" text-anchor="middle" textLength="28.6" lengthAdjust="spacingAndGlyphs">1.0</text>
<text x="436.05" y="267" font-size="19.6" text-anchor="middle" textLength="28.6" lengthAdjust="spacingAndGlyphs">1.5</text>
<text x="484.7" y="247" font-size="19.6" text-anchor="middle" textLength="28.6" lengthAdjust="spacingAndGlyphs">2.0</text>
<circle cx="808.0" cy="332.1" r="234.4" fill="#edecf2"/>
<g shape-rendering="crispEdges">
<path d="M808.00 307.47L808.00 295.16A36.94 36.94 0 0 1 815.21 295.87L812.80 307.94A24.63 24.63 0 0 0 808.00 307.47Z" fill="#9aaa80"/>
<path d="M808.00 282.84L808.00 270.53A61.57 61.57 0 0 1 820.01 271.71L817.61 283.79A49.26 49.26 0 0 0 808.00 282.84Z" fill="#e6e2e3"/>
<path d="M810.40 320.02L812.80 307.94A24.63 24.63 0 0 1 817.42 309.35L812.71 320.72A12.31 12.31 0 0 0 810.40 320.02Z" fill="#5e9673"/>
<path d="M812.80 307.94L815.21 295.87A36.94 36.94 0 0 1 822.14 297.97L817.42 309.35A24.63 24.63 0 0 0 812.80 307.94Z" fill="#9eab81"/>
<path d="M815.21 295.87L817.61 283.79A49.26 49.26 0 0 1 826.85 286.59L822.14 297.97A36.94 36.94 0 0 0 815.21 295.87Z" fill="#79a077"/>
<path d="M817.61 283.79L820.01 271.71A61.57 61.57 0 0 1 831.56 275.22L826.85 286.59A49.26 49.26 0 0 0 817.61 283.79Z" fill="#e6e2e3"/>
<path d="M820.01 271.71L822.41 259.63A73.89 73.89 0 0 1 836.27 263.84L831.56 275.22A61.57 61.57 0 0 0 820.01 271.71Z" fill="#dcd2c8"/>
<path d="M812.71 320.72L817.42 309.35A24.63 24.63 0 0 1 821.68 311.62L814.84 321.86A12.31 12.31 0 0 0 812.71 320.72Z" fill="#e6e2e3"/>
<path d="M817.42 309.35L822.14 297.97A36.94 36.94 0 0 1 828.52 301.38L821.68 311.62A24.63 24.63 0 0 0 817.42 309.35Z" fill="#d8c8b6"/>
<path d="M822.14 297.97L826.85 286.59A49.26 49.26 0 0 1 835.37 291.14L828.52 301.38A36.94 36.94 0 0 0 822.14 297.97Z" fill="#3a8c6f"/>
<path d="M826.85 286.59L831.56 275.22A61.57 61.57 0 0 1 842.21 280.91L835.37 291.14A49.26 49.26 0 0 0 826.85 286.59Z" fill="#1e4d5f"/>
<path d="M831.56 275.22L836.27 263.84A73.89 73.89 0 0 1 849.05 270.67L842.21 280.91A61.57 61.57 0 0 0 831.56 275.22Z" fill="#5e9673"/>
<path d="M836.27 263.84L840.99 252.46A86.20 86.20 0 0 1 855.89 260.43L849.05 270.67A73.89 73.89 0 0 0 836.27 263.84Z" fill="#135b66"/>
<path d="M840.99 252.46L845.70 241.09A98.51 98.51 0 0 1 862.73 250.19L855.89 260.43A86.20 86.20 0 0 0 840.99 252.46Z" fill="#0e6068"/>
<path d="M845.70 241.09L850.41 229.71A110.83 110.83 0 0 1 869.57 239.95L862.73 250.19A98.51 98.51 0 0 0 845.70 241.09Z" fill="#1c8170"/>
<path d="M850.41 229.71L855.12 218.33A123.14 123.14 0 0 1 876.41 229.71L869.57 239.95A110.83 110.83 0 0 0 850.41 229.71Z" fill="#9eab81"/>
<path d="M855.12 218.33L859.84 206.95A135.46 135.46 0 0 1 883.26 219.47L876.41 229.71A123.14 123.14 0 0 0 855.12 218.33Z" fill="#438f70"/>
<path d="M859.84 206.95L864.55 195.58A147.77 147.77 0 0 1 890.10 209.23L883.26 219.47A135.46 135.46 0 0 0 859.84 206.95Z" fill="#5e9673"/>
<path d="M864.55 195.58L869.26 184.20A160.08 160.08 0 0 1 896.94 198.99L890.10 209.23A147.77 147.77 0 0 0 864.55 195.58Z" fill="#c7b890"/>
<path d="M869.26 184.20L873.97 172.82A172.40 172.40 0 0 1 903.78 188.76L896.94 198.99A160.08 160.08 0 0 0 869.26 184.20Z" fill="#79a077"/>
<path d="M873.97 172.82L878.69 161.45A184.71 184.71 0 0 1 910.62 178.52L903.78 188.76A172.40 172.40 0 0 0 873.97 172.82Z" fill="#e2dcd8"/>
<path d="M878.69 161.45L883.40 150.07A197.03 197.03 0 0 1 917.46 168.28L910.62 178.52A184.71 184.71 0 0 0 878.69 161.45Z" fill="#e7e3e5"/>
<path d="M814.84 321.86L821.68 311.62A24.63 24.63 0 0 1 825.41 314.69L816.71 323.39A12.31 12.31 0 0 0 814.84 321.86Z" fill="#d0bc9a"/>
<path d="M821.68 311.62L828.52 301.38A36.94 36.94 0 0 1 834.12 305.98L825.41 314.69A24.63 24.63 0 0 0 821.68 311.62Z" fill="#d3c0a2"/>
<path d="M828.52 301.38L835.37 291.14A49.26 49.26 0 0 1 842.83 297.27L834.12 305.98A36.94 36.94 0 0 0 828.52 301.38Z" fill="#d2bea0"/>
<path d="M835.37 291.14L842.21 280.91A61.57 61.57 0 0 1 851.54 288.56L842.83 297.27A49.26 49.26 0 0 0 835.37 291.14Z" fill="#5e9673"/>
<path d="M842.21 280.91L849.05 270.67A73.89 73.89 0 0 1 860.24 279.86L851.54 288.56A61.57 61.57 0 0 0 842.21 280.91Z" fill="#dbcfc4"/>
<path d="M849.05 270.67L855.89 260.43A86.20 86.20 0 0 1 868.95 271.15L860.24 279.86A73.89 73.89 0 0 0 849.05 270.67Z" fill="#9eab81"/>
<path d="M855.89 260.43L862.73 250.19A98.51 98.51 0 0 1 877.66 262.44L868.95 271.15A86.20 86.20 0 0 0 855.89 260.43Z" fill="#79a077"/>
<path d="M862.73 250.19L869.57 239.95A110.83 110.83 0 0 1 886.37 253.73L877.66 262.44A98.51 98.51 0 0 0 862.73 250.19Z" fill="#b7b48a"/>
<path d="M869.57 239.95L876.41 229.71A123.14 123.14 0 0 1 895.07 245.03L886.37 253.73A110.83 110.83 0 0 0 869.57 239.95Z" fill="#9eab81"/>
<path d="M876.41 229.71L883.26 219.47A135.46 135.46 0 0 1 903.78 236.32L895.07 245.03A123.14 123.14 0 0 0 876.41 229.71Z" fill="#d3c0a2"/>
<path d="M883.26 219.47L890.10 209.23A147.77 147.77 0 0 1 912.49 227.61L903.78 236.32A135.46 135.46 0 0 0 883.26 219.47Z" fill="#e2dcd8"/>
<path d="M890.10 209.23L896.94 198.99A160.08 160.08 0 0 1 921.20 218.90L912.49 227.61A147.77 147.77 0 0 0 890.10 209.23Z" fill="#dbcfc4"/>
<path d="M896.94 198.99L903.78 188.76A172.40 172.40 0 0 1 929.90 210.20L921.20 218.90A160.08 160.08 0 0 0 896.94 198.99Z" fill="#e2dcd8"/>
<path d="M816.71 323.39L825.41 314.69A24.63 24.63 0 0 1 828.48 318.42L818.24 325.26A12.31 12.31 0 0 0 816.71 323.39Z" fill="#dcd2c8"/>
<path d="M834.12 305.98L842.83 297.27A49.26 49.26 0 0 1 848.96 304.73L838.72 311.58A36.94 36.94 0 0 0 834.12 305.98Z" fill="#d2bea0"/>
<path d="M842.83 297.27L851.54 288.56A61.57 61.57 0 0 1 859.19 297.89L848.96 304.73A49.26 49.26 0 0 0 842.83 297.27Z" fill="#b7b48a"/>
<path d="M851.54 288.56L860.24 279.86A73.89 73.89 0 0 1 869.43 291.05L859.19 297.89A61.57 61.57 0 0 0 851.54 288.56Z" fill="#e2dcd8"/>
<path d="M860.24 279.86L868.95 271.15A86.20 86.20 0 0 1 879.67 284.21L869.43 291.05A73.89 73.89 0 0 0 860.24 279.86Z" fill="#e2dcd8"/>
<path d="M868.95 271.15L877.66 262.44A98.51 98.51 0 0 1 889.91 277.37L879.67 284.21A86.20 86.20 0 0 0 868.95 271.15Z" fill="#e5e0e0"/>
<path d="M818.24 325.26L828.48 318.42A24.63 24.63 0 0 1 830.75 322.68L819.38 327.39A12.31 12.31 0 0 0 818.24 325.26Z" fill="#e5e0e0"/>
<path d="M828.48 318.42L838.72 311.58A36.94 36.94 0 0 1 842.13 317.96L830.75 322.68A24.63 24.63 0 0 0 828.48 318.42Z" fill="#d8c8b6"/>
<path d="M838.72 311.58L848.96 304.73A49.26 49.26 0 0 1 853.51 313.25L842.13 317.96A36.94 36.94 0 0 0 838.72 311.58Z" fill="#e2dcd8"/>
<path d="M848.96 304.73L859.19 297.89A61.57 61.57 0 0 1 864.88 308.54L853.51 313.25A49.26 49.26 0 0 0 848.96 304.73Z" fill="#d3c0a2"/>
<path d="M859.19 297.89L869.43 291.05A73.89 73.89 0 0 1 876.26 303.83L864.88 308.54A61.57 61.57 0 0 0 859.19 297.89Z" fill="#d9cbbc"/>
<path d="M830.75 322.68L842.13 317.96A36.94 36.94 0 0 1 844.23 324.89L832.16 327.30A24.63 24.63 0 0 0 830.75 322.68Z" fill="#e2dcd8"/>
<path d="M842.13 317.96L853.51 313.25A49.26 49.26 0 0 1 856.31 322.49L844.23 324.89A36.94 36.94 0 0 0 842.13 317.96Z" fill="#dbcfc4"/>
<path d="M853.51 313.25L864.88 308.54A61.57 61.57 0 0 1 868.39 320.09L856.31 322.49A49.26 49.26 0 0 0 853.51 313.25Z" fill="#e7e3e5"/>
<path d="M820.08 329.70L832.16 327.30A24.63 24.63 0 0 1 832.63 332.10L820.31 332.10A12.31 12.31 0 0 0 820.08 329.70Z" fill="#e2dcd8"/>
<path d="M832.16 327.30L844.23 324.89A36.94 36.94 0 0 1 844.94 332.10L832.63 332.10A24.63 24.63 0 0 0 832.16 327.30Z" fill="#d2bea0"/>
<path d="M844.94 332.10L857.26 332.10A49.26 49.26 0 0 1 856.31 341.71L844.23 339.31A36.94 36.94 0 0 0 844.94 332.10Z" fill="#e6e2e3"/>
<path d="M844.23 339.31L856.31 341.71A49.26 49.26 0 0 1 853.51 350.95L842.13 346.24A36.94 36.94 0 0 0 844.23 339.31Z" fill="#e6e2e3"/>
<path d="M830.75 341.52L842.13 346.24A36.94 36.94 0 0 1 838.72 352.62L828.48 345.78A24.63 24.63 0 0 0 830.75 341.52Z" fill="#e1d9d4"/>
<path d="M818.24 338.94L828.48 345.78A24.63 24.63 0 0 1 825.41 349.51L816.71 340.81A12.31 12.31 0 0 0 818.24 338.94Z" fill="#e3dedb"/>
<path d="M834.12 358.22L842.83 366.93A49.26 49.26 0 0 1 835.37 373.06L828.52 362.82A36.94 36.94 0 0 0 834.12 358.22Z" fill="#e2dcd8"/>
<path d="M821.68 352.58L828.52 362.82A36.94 36.94 0 0 1 822.14 366.23L817.42 354.85A24.63 24.63 0 0 0 821.68 352.58Z" fill="#d9cbbc"/>
<path d="M817.42 354.85L822.14 366.23A36.94 36.94 0 0 1 815.21 368.33L812.80 356.26A24.63 24.63 0 0 0 817.42 354.85Z" fill="#94a87e"/>
<path d="M815.21 368.33L817.61 380.41A49.26 49.26 0 0 1 808.00 381.36L808.00 369.04A36.94 36.94 0 0 0 815.21 368.33Z" fill="#9cab81"/>
<path d="M817.61 380.41L820.01 392.49A61.57 61.57 0 0 1 808.00 393.67L808.00 381.36A49.26 49.26 0 0 0 817.61 380.41Z" fill="#e6e2e3"/>
<path d="M820.01 392.49L822.41 404.57A73.89 73.89 0 0 1 808.00 405.99L808.00 393.67A61.57 61.57 0 0 0 820.01 392.49Z" fill="#e6e2e3"/>
<path d="M808.00 344.41L808.00 356.73A24.63 24.63 0 0 1 803.20 356.26L805.60 344.18A12.31 12.31 0 0 0 808.00 344.41Z" fill="#e3dedb"/>
<path d="M808.00 356.73L808.00 369.04A36.94 36.94 0 0 1 800.79 368.33L803.20 356.26A24.63 24.63 0 0 0 808.00 356.73Z" fill="#d0bc9a"/>
<path d="M808.00 369.04L808.00 381.36A49.26 49.26 0 0 1 798.39 380.41L800.79 368.33A36.94 36.94 0 0 0 808.00 369.04Z" fill="#d3c0a2"/>
<path d="M808.00 381.36L808.00 393.67A61.57 61.57 0 0 1 795.99 392.49L798.39 380.41A49.26 49.26 0 0 0 808.00 381.36Z" fill="#e3dedb"/>
<path d="M808.00 393.67L808.00 405.99A73.89 73.89 0 0 1 793.59 404.57L795.99 392.49A61.57 61.57 0 0 0 808.00 393.67Z" fill="#dbcfc4"/>
<path d="M808.00 405.99L808.00 418.30A86.20 86.20 0 0 1 791.18 416.64L793.59 404.57A73.89 73.89 0 0 0 808.00 405.99Z" fill="#96a97f"/>
<path d="M808.00 418.30L808.00 430.61A98.51 98.51 0 0 1 788.78 428.72L791.18 416.64A86.20 86.20 0 0 0 808.00 418.30Z" fill="#dbcfc4"/>
<path d="M808.00 430.61L808.00 442.93A110.83 110.83 0 0 1 786.38 440.80L788.78 428.72A98.51 98.51 0 0 0 808.00 430.61Z" fill="#e5e0e0"/>
<path d="M803.20 356.26L800.79 368.33A36.94 36.94 0 0 1 793.86 366.23L798.58 354.85A24.63 24.63 0 0 0 803.20 356.26Z" fill="#d9cbbc"/>
<path d="M800.79 368.33L798.39 380.41A49.26 49.26 0 0 1 789.15 377.61L793.86 366.23A36.94 36.94 0 0 0 800.79 368.33Z" fill="#569472"/>
<path d="M798.39 380.41L795.99 392.49A61.57 61.57 0 0 1 784.44 388.98L789.15 377.61A49.26 49.26 0 0 0 798.39 380.41Z" fill="#89a57a"/>
<path d="M795.99 392.49L793.59 404.57A73.89 73.89 0 0 1 779.73 400.36L784.44 388.98A61.57 61.57 0 0 0 795.99 392.49Z" fill="#679974"/>
<path d="M793.59 404.57L791.18 416.64A86.20 86.20 0 0 1 775.01 411.74L779.73 400.36A73.89 73.89 0 0 0 793.59 404.57Z" fill="#679974"/>
<path d="M791.18 416.64L788.78 428.72A98.51 98.51 0 0 1 770.30 423.11L775.01 411.74A86.20 86.20 0 0 0 791.18 416.64Z" fill="#4a9170"/>
<path d="M788.78 428.72L786.38 440.80A110.83 110.83 0 0 1 765.59 434.49L770.30 423.11A98.51 98.51 0 0 0 788.78 428.72Z" fill="#5e9673"/>
<path d="M786.38 440.80L783.98 452.88A123.14 123.14 0 0 1 760.88 445.87L765.59 434.49A110.83 110.83 0 0 0 786.38 440.80Z" fill="#82a279"/>
<path d="M783.98 452.88L781.57 464.95A135.46 135.46 0 0 1 756.16 457.25L760.88 445.87A123.14 123.14 0 0 0 783.98 452.88Z" fill="#82a279"/>
<path d="M781.57 464.95L779.17 477.03A147.77 147.77 0 0 1 751.45 468.62L756.16 457.25A135.46 135.46 0 0 0 781.57 464.95Z" fill="#82a279"/>
<path d="M779.17 477.03L776.77 489.11A160.08 160.08 0 0 1 746.74 480.00L751.45 468.62A147.77 147.77 0 0 0 779.17 477.03Z" fill="#639874"/>
<path d="M776.77 489.11L774.37 501.19A172.40 172.40 0 0 1 742.03 491.38L746.74 480.00A160.08 160.08 0 0 0 776.77 489.11Z" fill="#d3c0a2"/>
<path d="M803.29 343.48L798.58 354.85A24.63 24.63 0 0 1 794.32 352.58L801.16 342.34A12.31 12.31 0 0 0 803.29 343.48Z" fill="#dbcfc4"/>
<path d="M798.58 354.85L793.86 366.23A36.94 36.94 0 0 1 787.48 362.82L794.32 352.58A24.63 24.63 0 0 0 798.58 354.85Z" fill="#719d76"/>
<path d="M793.86 366.23L789.15 377.61A49.26 49.26 0 0 1 780.63 373.06L787.48 362.82A36.94 36.94 0 0 0 793.86 366.23Z" fill="#438f70"/>
<path d="M789.15 377.61L784.44 388.98A61.57 61.57 0 0 1 773.79 383.29L780.63 373.06A49.26 49.26 0 0 0 789.15 377.61Z" fill="#9eab81"/>
<path d="M784.44 388.98L779.73 400.36A73.89 73.89 0 0 1 766.95 393.53L773.79 383.29A61.57 61.57 0 0 0 784.44 388.98Z" fill="#679974"/>
<path d="M779.73 400.36L775.01 411.74A86.20 86.20 0 0 1 760.11 403.77L766.95 393.53A73.89 73.89 0 0 0 779.73 400.36Z" fill="#679974"/>
<path d="M775.01 411.74L770.30 423.11A98.51 98.51 0 0 1 753.27 414.01L760.11 403.77A86.20 86.20 0 0 0 775.01 411.74Z" fill="#438f70"/>
<path d="M770.30 423.11L765.59 434.49A110.83 110.83 0 0 1 746.43 424.25L753.27 414.01A98.51 98.51 0 0 0 770.30 423.11Z" fill="#0f7c70"/>
<path d="M765.59 434.49L760.88 445.87A123.14 123.14 0 0 1 739.59 434.49L746.43 424.25A110.83 110.83 0 0 0 765.59 434.49Z" fill="#9eab81"/>
<path d="M760.88 445.87L756.16 457.25A135.46 135.46 0 0 1 732.74 444.73L739.59 434.49A123.14 123.14 0 0 0 760.88 445.87Z" fill="#9eab81"/>
<path d="M756.16 457.25L751.45 468.62A147.77 147.77 0 0 1 725.90 454.97L732.74 444.73A135.46 135.46 0 0 0 756.16 457.25Z" fill="#1c8170"/>
<path d="M751.45 468.62L746.74 480.00A160.08 160.08 0 0 1 719.06 465.21L725.90 454.97A147.77 147.77 0 0 0 751.45 468.62Z" fill="#5e9673"/>
<path d="M746.74 480.00L742.03 491.38A172.40 172.40 0 0 1 712.22 475.44L719.06 465.21A160.08 160.08 0 0 0 746.74 480.00Z" fill="#1c8170"/>
<path d="M742.03 491.38L737.31 502.75A184.71 184.71 0 0 1 705.38 485.68L712.22 475.44A172.40 172.40 0 0 0 742.03 491.38Z" fill="#89a57a"/>
<path d="M737.31 502.75L732.60 514.13A197.03 197.03 0 0 1 698.54 495.92L705.38 485.68A184.71 184.71 0 0 0 737.31 502.75Z" fill="#e6e2e3"/>
<path d="M794.32 352.58L787.48 362.82A36.94 36.94 0 0 1 781.88 358.22L790.59 349.51A24.63 24.63 0 0 0 794.32 352.58Z" fill="#a9af85"/>
<path d="M787.48 362.82L780.63 373.06A49.26 49.26 0 0 1 773.17 366.93L781.88 358.22A36.94 36.94 0 0 0 787.48 362.82Z" fill="#d8c8b6"/>
<path d="M780.63 373.06L773.79 383.29A61.57 61.57 0 0 1 764.46 375.64L773.17 366.93A49.26 49.26 0 0 0 780.63 373.06Z" fill="#dbcfc4"/>
<path d="M773.79 383.29L766.95 393.53A73.89 73.89 0 0 1 755.76 384.34L764.46 375.64A61.57 61.57 0 0 0 773.79 383.29Z" fill="#e2dcd8"/>
<path d="M766.95 393.53L760.11 403.77A86.20 86.20 0 0 1 747.05 393.05L755.76 384.34A73.89 73.89 0 0 0 766.95 393.53Z" fill="#e6e2e3"/>
<path d="M760.11 403.77L753.27 414.01A98.51 98.51 0 0 1 738.34 401.76L747.05 393.05A86.20 86.20 0 0 0 760.11 403.77Z" fill="#ded6ce"/>
<path d="M753.27 414.01L746.43 424.25A110.83 110.83 0 0 1 729.63 410.47L738.34 401.76A98.51 98.51 0 0 0 753.27 414.01Z" fill="#e2dcd8"/>
<path d="M799.29 340.81L790.59 349.51A24.63 24.63 0 0 1 787.52 345.78L797.76 338.94A12.31 12.31 0 0 0 799.29 340.81Z" fill="#e2dcd8"/>
<path d="M781.88 358.22L773.17 366.93A49.26 49.26 0 0 1 767.04 359.47L777.28 352.62A36.94 36.94 0 0 0 781.88 358.22Z" fill="#d2bea0"/>
<path d="M796.62 336.81L785.25 341.52A24.63 24.63 0 0 1 783.84 336.90L795.92 334.50A12.31 12.31 0 0 0 796.62 336.81Z" fill="#d3c0a2"/>
<path d="M785.25 341.52L773.87 346.24A36.94 36.94 0 0 1 771.77 339.31L783.84 336.90A24.63 24.63 0 0 0 785.25 341.52Z" fill="#e6e2e3"/>
<path d="M795.92 334.50L783.84 336.90A24.63 24.63 0 0 1 783.37 332.10L795.69 332.10A12.31 12.31 0 0 0 795.92 334.50Z" fill="#e2dcd8"/>
<path d="M795.92 329.70L783.84 327.30A24.63 24.63 0 0 1 785.25 322.68L796.62 327.39A12.31 12.31 0 0 0 795.92 329.70Z" fill="#d5c2a8"/>
<path d="M796.62 327.39L785.25 322.68A24.63 24.63 0 0 1 787.52 318.42L797.76 325.26A12.31 12.31 0 0 0 796.62 327.39Z" fill="#e2dcd8"/>
<path d="M799.29 323.39L790.59 314.69A24.63 24.63 0 0 1 794.32 311.62L801.16 321.86A12.31 12.31 0 0 0 799.29 323.39Z" fill="#e6e2e3"/>
<path d="M801.16 321.86L794.32 311.62A24.63 24.63 0 0 1 798.58 309.35L803.29 320.72A12.31 12.31 0 0 0 801.16 321.86Z" fill="#e6e2e3"/>
<path d="M803.29 320.72L798.58 309.35A24.63 24.63 0 0 1 803.20 307.94L805.60 320.02A12.31 12.31 0 0 0 803.29 320.72Z" fill="#d9cbbc"/>
<path d="M805.60 320.02L803.20 307.94A24.63 24.63 0 0 1 808.00 307.47L808.00 319.79A12.31 12.31 0 0 0 805.60 320.02Z" fill="#9aaa80"/>
<path d="M797.76 338.94L787.52 345.78A24.63 24.63 0 0 1 785.25 341.52L796.62 336.81A12.31 12.31 0 0 0 797.76 338.94Z" fill="#dcd2c8"/>
<path d="M790.59 349.51L781.88 358.22A36.94 36.94 0 0 1 777.28 352.62L787.52 345.78A24.63 24.63 0 0 0 790.59 349.51Z" fill="#d0bc9a"/>
<path d="M801.16 342.34L794.32 352.58A24.63 24.63 0 0 1 790.59 349.51L799.29 340.81A12.31 12.31 0 0 0 801.16 342.34Z" fill="#bbb58b"/>
<path d="M805.60 344.18L803.20 356.26A24.63 24.63 0 0 1 798.58 354.85L803.29 343.48A12.31 12.31 0 0 0 805.60 344.18Z" fill="#cebb98"/>
<path d="M814.84 342.34L821.68 352.58A24.63 24.63 0 0 1 817.42 354.85L812.71 343.48A12.31 12.31 0 0 0 814.84 342.34Z" fill="#e3dedb"/>
<path d="M825.41 349.51L834.12 358.22A36.94 36.94 0 0 1 828.52 362.82L821.68 352.58A24.63 24.63 0 0 0 825.41 349.51Z" fill="#e2dcd8"/>
<path d="M828.48 345.78L838.72 352.62A36.94 36.94 0 0 1 834.12 358.22L825.41 349.51A24.63 24.63 0 0 0 828.48 345.78Z" fill="#e2dcd8"/>
<path d="M819.38 336.81L830.75 341.52A24.63 24.63 0 0 1 828.48 345.78L818.24 338.94A12.31 12.31 0 0 0 819.38 336.81Z" fill="#e3dedb"/>
<path d="M820.08 334.50L832.16 336.90A24.63 24.63 0 0 1 830.75 341.52L819.38 336.81A12.31 12.31 0 0 0 820.08 334.50Z" fill="#e5e0e0"/>
<path d="M820.31 332.10L832.63 332.10A24.63 24.63 0 0 1 832.16 336.90L820.08 334.50A12.31 12.31 0 0 0 820.31 332.10Z" fill="#e5e0e0"/>
<path d="M832.63 332.10L844.94 332.10A36.94 36.94 0 0 1 844.23 339.31L832.16 336.90A24.63 24.63 0 0 0 832.63 332.10Z" fill="#e6e2e3"/>
<path d="M819.38 327.39L830.75 322.68A24.63 24.63 0 0 1 832.16 327.30L820.08 329.70A12.31 12.31 0 0 0 819.38 327.39Z" fill="#e2dcd8"/>
<path d="M808.00 332.10L808.00 319.79A12.31 12.31 0 0 1 810.40 320.02L808.00 332.10Z" fill="#e9e7ea"/>
<path d="M808.00 332.10L810.40 320.02A12.31 12.31 0 0 1 812.71 320.72L808.00 332.10Z" fill="#e9e7ea"/>
<path d="M808.00 332.10L812.71 320.72A12.31 12.31 0 0 1 814.84 321.86L808.00 332.10Z" fill="#e9e7ea"/>
<path d="M808.00 332.10L814.84 321.86A12.31 12.31 0 0 1 816.71 323.39L808.00 332.10Z" fill="#e9e7ea"/>
<path d="M808.00 332.10L816.71 323.39A12.31 12.31 0 0 1 818.24 325.26L808.00 332.10Z" fill="#e9e7ea"/>
<path d="M808.00 332.10L818.24 325.26A12.31 12.31 0 0 1 819.38 327.39L808.00 332.10Z" fill="#e9e7ea"/>
<path d="M808.00 332.10L819.38 327.39A12.31 12.31 0 0 1 820.08 329.70L808.00 332.10Z" fill="#e9e7ea"/>
<path d="M808.00 332.10L820.08 329.70A12.31 12.31 0 0 1 820.31 332.10L808.00 332.10Z" fill="#e9e7ea"/>
<path d="M808.00 332.10L820.31 332.10A12.31 12.31 0 0 1 820.08 334.50L808.00 332.10Z" fill="#e9e7ea"/>
<path d="M808.00 332.10L820.08 334.50A12.31 12.31 0 0 1 819.38 336.81L808.00 332.10Z" fill="#e9e7ea"/>
<path d="M808.00 332.10L819.38 336.81A12.31 12.31 0 0 1 818.24 338.94L808.00 332.10Z" fill="#e9e7ea"/>
<path d="M808.00 332.10L818.24 338.94A12.31 12.31 0 0 1 816.71 340.81L808.00 332.10Z" fill="#e9e7ea"/>
<path d="M808.00 332.10L816.71 340.81A12.31 12.31 0 0 1 814.84 342.34L808.00 332.10Z" fill="#e9e7ea"/>
<path d="M808.00 332.10L814.84 342.34A12.31 12.31 0 0 1 812.71 343.48L808.00 332.10Z" fill="#e9e7ea"/>
<path d="M808.00 332.10L812.71 343.48A12.31 12.31 0 0 1 810.40 344.18L808.00 332.10Z" fill="#e9e7ea"/>
<path d="M808.00 332.10L810.40 344.18A12.31 12.31 0 0 1 808.00 344.41L808.00 332.10Z" fill="#e9e7ea"/>
<path d="M808.00 332.10L808.00 344.41A12.31 12.31 0 0 1 805.60 344.18L808.00 332.10Z" fill="#e9e7ea"/>
<path d="M808.00 332.10L805.60 344.18A12.31 12.31 0 0 1 803.29 343.48L808.00 332.10Z" fill="#e9e7ea"/>
<path d="M808.00 332.10L803.29 343.48A12.31 12.31 0 0 1 801.16 342.34L808.00 332.10Z" fill="#e9e7ea"/>
<path d="M808.00 332.10L801.16 342.34A12.31 12.31 0 0 1 799.29 340.81L808.00 332.10Z" fill="#e9e7ea"/>
<path d="M808.00 332.10L799.29 340.81A12.31 12.31 0 0 1 797.76 338.94L808.00 332.10Z" fill="#e9e7ea"/>
<path d="M808.00 332.10L797.76 338.94A12.31 12.31 0 0 1 796.62 336.81L808.00 332.10Z" fill="#e9e7ea"/>
<path d="M808.00 332.10L796.62 336.81A12.31 12.31 0 0 1 795.92 334.50L808.00 332.10Z" fill="#e9e7ea"/>
<path d="M808.00 332.10L795.92 334.50A12.31 12.31 0 0 1 795.69 332.10L808.00 332.10Z" fill="#e9e7ea"/>
<path d="M808.00 332.10L795.69 332.10A12.31 12.31 0 0 1 795.92 329.70L808.00 332.10Z" fill="#e9e7ea"/>
<path d="M808.00 332.10L795.92 329.70A12.31 12.31 0 0 1 796.62 327.39L808.00 332.10Z" fill="#e9e7ea"/>
<path d="M808.00 332.10L796.62 327.39A12.31 12.31 0 0 1 797.76 325.26L808.00 332.10Z" fill="#e9e7ea"/>
<path d="M808.00 332.10L797.76 325.26A12.31 12.31 0 0 1 799.29 323.39L808.00 332.10Z" fill="#e9e7ea"/>
<path d="M808.00 332.10L799.29 323.39A12.31 12.31 0 0 1 801.16 321.86L808.00 332.10Z" fill="#e9e7ea"/>
<path d="M808.00 332.10L801.16 321.86A12.31 12.31 0 0 1 803.29 320.72L808.00 332.10Z" fill="#e9e7ea"/>
<path d="M808.00 332.10L803.29 320.72A12.31 12.31 0 0 1 805.60 320.02L808.00 332.10Z" fill="#e9e7ea"/>
<path d="M808.00 332.10L805.60 320.02A12.31 12.31 0 0 1 808.00 319.79L808.00 332.10Z" fill="#e9e7ea"/>
</g>
<circle cx="808.0" cy="332.1" r="53.17" fill="none" stroke="#b0b0b0" stroke-width="1.15"/>
<circle cx="808.0" cy="332.1" r="106.35" fill="none" stroke="#b0b0b0" stroke-width="1.15"/>
<circle cx="808.0" cy="332.1" r="159.52" fill="none" stroke="#b0b0b0" stroke-width="1.15"/>
<circle cx="808.0" cy="332.1" r="212.70" fill="none" stroke="#b0b0b0" stroke-width="1.15"/>
<line x1="573.60" y1="332.5" x2="1042.40" y2="332.5" stroke="#b0b0b0" stroke-width="1.15"/>
<line x1="808.5" y1="97.70" x2="808.5" y2="566.50" stroke="#b0b0b0" stroke-width="1.15"/>
<line x1="808.0" y1="332.1" x2="973.75" y2="166.35" stroke="#b0b0b0" stroke-width="1.15"/>
<line x1="808.0" y1="332.1" x2="973.75" y2="497.85" stroke="#b0b0b0" stroke-width="1.15"/>
<line x1="808.0" y1="332.1" x2="642.25" y2="497.85" stroke="#b0b0b0" stroke-width="1.15"/>
<line x1="808.0" y1="332.1" x2="642.25" y2="166.35" stroke="#b0b0b0" stroke-width="1.15"/>
<circle cx="808.0" cy="332.1" r="234.4" fill="none" stroke="#000" stroke-width="1.6"/>
<text x="807.8" y="61.0" font-size="25.5" text-anchor="middle" textLength="99" lengthAdjust="spacingAndGlyphs">NWGOA</text>
<text x="808.45" y="83.9" font-size="19.6" text-anchor="middle">N</text>
<text x="808.6" y="591.8" font-size="19.6" text-anchor="middle">S</text>
<text x="1062.2" y="338.0" font-size="19.6" text-anchor="middle">E</text>
<text x="555.1" y="337.7" font-size="19.6" text-anchor="middle">W</text>
<text x="872.1" y="307.7" font-size="19.6" text-anchor="middle" textLength="28.6" lengthAdjust="spacingAndGlyphs">0.5</text>
<text x="921.5" y="287.7" font-size="19.6" text-anchor="middle" textLength="28.6" lengthAdjust="spacingAndGlyphs">1.0</text>
<text x="970.55" y="267" font-size="19.6" text-anchor="middle" textLength="28.6" lengthAdjust="spacingAndGlyphs">1.5</text>
<text x="1019.2" y="247" font-size="19.6" text-anchor="middle" textLength="28.6" lengthAdjust="spacingAndGlyphs">2.0</text>
<circle cx="1342.1" cy="332.1" r="234.4" fill="#edecf2"/>
<g shape-rendering="crispEdges">
<path d="M1342.10 319.79L1342.10 307.47A24.63 24.63 0 0 1 1346.90 307.94L1344.50 320.02A12.31 12.31 0 0 0 1342.10 319.79Z" fill="#ded6ce"/>
<path d="M1342.10 307.47L1342.10 295.16A36.94 36.94 0 0 1 1349.31 295.87L1346.90 307.94A24.63 24.63 0 0 0 1342.10 307.47Z" fill="#dbcfc4"/>
<path d="M1342.10 295.16L1342.10 282.84A49.26 49.26 0 0 1 1351.71 283.79L1349.31 295.87A36.94 36.94 0 0 0 1342.10 295.16Z" fill="#9aaa80"/>
<path d="M1342.10 282.84L1342.10 270.53A61.57 61.57 0 0 1 1354.11 271.71L1351.71 283.79A49.26 49.26 0 0 0 1342.10 282.84Z" fill="#d5c2a8"/>
<path d="M1342.10 270.53L1342.10 258.21A73.89 73.89 0 0 1 1356.51 259.63L1354.11 271.71A61.57 61.57 0 0 0 1342.10 270.53Z" fill="#dcd2c8"/>
<path d="M1342.10 258.21L1342.10 245.90A86.20 86.20 0 0 1 1358.92 247.56L1356.51 259.63A73.89 73.89 0 0 0 1342.10 258.21Z" fill="#dcd2c8"/>
<path d="M1342.10 233.59L1342.10 221.27A110.83 110.83 0 0 1 1363.72 223.40L1361.32 235.48A98.51 98.51 0 0 0 1342.10 233.59Z" fill="#e7e3e5"/>
<path d="M1344.50 320.02L1346.90 307.94A24.63 24.63 0 0 1 1351.52 309.35L1346.81 320.72A12.31 12.31 0 0 0 1344.50 320.02Z" fill="#82a279"/>
<path d="M1346.90 307.94L1349.31 295.87A36.94 36.94 0 0 1 1356.24 297.97L1351.52 309.35A24.63 24.63 0 0 0 1346.90 307.94Z" fill="#d3c0a2"/>
<path d="M1349.31 295.87L1351.71 283.79A49.26 49.26 0 0 1 1360.95 286.59L1356.24 297.97A36.94 36.94 0 0 0 1349.31 295.87Z" fill="#5e9673"/>
<path d="M1351.71 283.79L1354.11 271.71A61.57 61.57 0 0 1 1365.66 275.22L1360.95 286.59A49.26 49.26 0 0 0 1351.71 283.79Z" fill="#066c6e"/>
<path d="M1354.11 271.71L1356.51 259.63A73.89 73.89 0 0 1 1370.37 263.84L1365.66 275.22A61.57 61.57 0 0 0 1354.11 271.71Z" fill="#89a57a"/>
<path d="M1356.51 259.63L1358.92 247.56A86.20 86.20 0 0 1 1375.09 252.46L1370.37 263.84A73.89 73.89 0 0 0 1356.51 259.63Z" fill="#5e9673"/>
<path d="M1358.92 247.56L1361.32 235.48A98.51 98.51 0 0 1 1379.80 241.09L1375.09 252.46A86.20 86.20 0 0 0 1358.92 247.56Z" fill="#6e9c75"/>
<path d="M1361.32 235.48L1363.72 223.40A110.83 110.83 0 0 1 1384.51 229.71L1379.80 241.09A98.51 98.51 0 0 0 1361.32 235.48Z" fill="#e2dcd8"/>
<path d="M1363.72 223.40L1366.12 211.32A123.14 123.14 0 0 1 1389.22 218.33L1384.51 229.71A110.83 110.83 0 0 0 1363.72 223.40Z" fill="#e6e2e3"/>
<path d="M1346.81 320.72L1351.52 309.35A24.63 24.63 0 0 1 1355.78 311.62L1348.94 321.86A12.31 12.31 0 0 0 1346.81 320.72Z" fill="#e2dcd8"/>
<path d="M1351.52 309.35L1356.24 297.97A36.94 36.94 0 0 1 1362.62 301.38L1355.78 311.62A24.63 24.63 0 0 0 1351.52 309.35Z" fill="#c7b890"/>
<path d="M1356.24 297.97L1360.95 286.59A49.26 49.26 0 0 1 1369.47 291.14L1362.62 301.38A36.94 36.94 0 0 0 1356.24 297.97Z" fill="#94a87e"/>
<path d="M1360.95 286.59L1365.66 275.22A61.57 61.57 0 0 1 1376.31 280.91L1369.47 291.14A49.26 49.26 0 0 0 1360.95 286.59Z" fill="#9cab81"/>
<path d="M1365.66 275.22L1370.37 263.84A73.89 73.89 0 0 1 1383.15 270.67L1376.31 280.91A61.57 61.57 0 0 0 1365.66 275.22Z" fill="#458f70"/>
<path d="M1370.37 263.84L1375.09 252.46A86.20 86.20 0 0 1 1389.99 260.43L1383.15 270.67A73.89 73.89 0 0 0 1370.37 263.84Z" fill="#0d7970"/>
<path d="M1375.09 252.46L1379.80 241.09A98.51 98.51 0 0 1 1396.83 250.19L1389.99 260.43A86.20 86.20 0 0 0 1375.09 252.46Z" fill="#231c3a"/>
<path d="M1379.80 241.09L1384.51 229.71A110.83 110.83 0 0 1 1403.67 239.95L1396.83 250.19A98.51 98.51 0 0 0 1379.80 241.09Z" fill="#234259"/>
<path d="M1384.51 229.71L1389.22 218.33A123.14 123.14 0 0 1 1410.51 229.71L1403.67 239.95A110.83 110.83 0 0 0 1384.51 229.71Z" fill="#077370"/>
<path d="M1389.22 218.33L1393.94 206.95A135.46 135.46 0 0 1 1417.36 219.47L1410.51 229.71A123.14 123.14 0 0 0 1389.22 218.33Z" fill="#5b9573"/>
<path d="M1393.94 206.95L1398.65 195.58A147.77 147.77 0 0 1 1424.20 209.23L1417.36 219.47A135.46 135.46 0 0 0 1393.94 206.95Z" fill="#9eab81"/>
<path d="M1398.65 195.58L1403.36 184.20A160.08 160.08 0 0 1 1431.04 198.99L1424.20 209.23A147.77 147.77 0 0 0 1398.65 195.58Z" fill="#dcd2c8"/>
<path d="M1403.36 184.20L1408.07 172.82A172.40 172.40 0 0 1 1437.88 188.76L1431.04 198.99A160.08 160.08 0 0 0 1403.36 184.20Z" fill="#d2bea0"/>
<path d="M1408.07 172.82L1412.79 161.45A184.71 184.71 0 0 1 1444.72 178.52L1437.88 188.76A172.40 172.40 0 0 0 1408.07 172.82Z" fill="#e6e2e3"/>
<path d="M1348.94 321.86L1355.78 311.62A24.63 24.63 0 0 1 1359.51 314.69L1350.81 323.39A12.31 12.31 0 0 0 1348.94 321.86Z" fill="#ded6ce"/>
<path d="M1355.78 311.62L1362.62 301.38A36.94 36.94 0 0 1 1368.22 305.98L1359.51 314.69A24.63 24.63 0 0 0 1355.78 311.62Z" fill="#e2dcd8"/>
<path d="M1362.62 301.38L1369.47 291.14A49.26 49.26 0 0 1 1376.93 297.27L1368.22 305.98A36.94 36.94 0 0 0 1362.62 301.38Z" fill="#89a57a"/>
<path d="M1369.47 291.14L1376.31 280.91A61.57 61.57 0 0 1 1385.64 288.56L1376.93 297.27A49.26 49.26 0 0 0 1369.47 291.14Z" fill="#759e76"/>
<path d="M1376.31 280.91L1383.15 270.67A73.89 73.89 0 0 1 1394.34 279.86L1385.64 288.56A61.57 61.57 0 0 0 1376.31 280.91Z" fill="#9cab81"/>
<path d="M1383.15 270.67L1389.99 260.43A86.20 86.20 0 0 1 1403.05 271.15L1394.34 279.86A73.89 73.89 0 0 0 1383.15 270.67Z" fill="#5b9573"/>
<path d="M1389.99 260.43L1396.83 250.19A98.51 98.51 0 0 1 1411.76 262.44L1403.05 271.15A86.20 86.20 0 0 0 1389.99 260.43Z" fill="#b6b389"/>
<path d="M1396.83 250.19L1403.67 239.95A110.83 110.83 0 0 1 1420.47 253.73L1411.76 262.44A98.51 98.51 0 0 0 1396.83 250.19Z" fill="#c7b890"/>
<path d="M1403.67 239.95L1410.51 229.71A123.14 123.14 0 0 1 1429.17 245.03L1420.47 253.73A110.83 110.83 0 0 0 1403.67 239.95Z" fill="#d3c0a2"/>
<path d="M1410.51 229.71L1417.36 219.47A135.46 135.46 0 0 1 1437.88 236.32L1429.17 245.03A123.14 123.14 0 0 0 1410.51 229.71Z" fill="#e2dcd8"/>
<path d="M1350.81 323.39L1359.51 314.69A24.63 24.63 0 0 1 1362.58 318.42L1352.34 325.26A12.31 12.31 0 0 0 1350.81 323.39Z" fill="#c1b68e"/>
<path d="M1359.51 314.69L1368.22 305.98A36.94 36.94 0 0 1 1372.82 311.58L1362.58 318.42A24.63 24.63 0 0 0 1359.51 314.69Z" fill="#ded6ce"/>
<path d="M1368.22 305.98L1376.93 297.27A49.26 49.26 0 0 1 1383.06 304.73L1372.82 311.58A36.94 36.94 0 0 0 1368.22 305.98Z" fill="#7da178"/>
<path d="M1376.93 297.27L1385.64 288.56A61.57 61.57 0 0 1 1393.29 297.89L1383.06 304.73A49.26 49.26 0 0 0 1376.93 297.27Z" fill="#b7b48a"/>
<path d="M1385.64 288.56L1394.34 279.86A73.89 73.89 0 0 1 1403.53 291.05L1393.29 297.89A61.57 61.57 0 0 0 1385.64 288.56Z" fill="#e2dcd8"/>
<path d="M1394.34 279.86L1403.05 271.15A86.20 86.20 0 0 1 1413.77 284.21L1403.53 291.05A73.89 73.89 0 0 0 1394.34 279.86Z" fill="#e3dedb"/>
<path d="M1403.05 271.15L1411.76 262.44A98.51 98.51 0 0 1 1424.01 277.37L1413.77 284.21A86.20 86.20 0 0 0 1403.05 271.15Z" fill="#e6e2e3"/>
<path d="M1352.34 325.26L1362.58 318.42A24.63 24.63 0 0 1 1364.85 322.68L1353.48 327.39A12.31 12.31 0 0 0 1352.34 325.26Z" fill="#e5e0e0"/>
<path d="M1362.58 318.42L1372.82 311.58A36.94 36.94 0 0 1 1376.23 317.96L1364.85 322.68A24.63 24.63 0 0 0 1362.58 318.42Z" fill="#b2b288"/>
<path d="M1372.82 311.58L1383.06 304.73A49.26 49.26 0 0 1 1387.61 313.25L1376.23 317.96A36.94 36.94 0 0 0 1372.82 311.58Z" fill="#ded6ce"/>
<path d="M1353.48 327.39L1364.85 322.68A24.63 24.63 0 0 1 1366.26 327.30L1354.18 329.70A12.31 12.31 0 0 0 1353.48 327.39Z" fill="#dcd2c8"/>
<path d="M1364.85 322.68L1376.23 317.96A36.94 36.94 0 0 1 1378.33 324.89L1366.26 327.30A24.63 24.63 0 0 0 1364.85 322.68Z" fill="#b2b288"/>
<path d="M1354.18 329.70L1366.26 327.30A24.63 24.63 0 0 1 1366.73 332.10L1354.41 332.10A12.31 12.31 0 0 0 1354.18 329.70Z" fill="#dbcfc4"/>
<path d="M1366.26 327.30L1378.33 324.89A36.94 36.94 0 0 1 1379.04 332.10L1366.73 332.10A24.63 24.63 0 0 0 1366.26 327.30Z" fill="#e6e2e3"/>
<path d="M1354.41 332.10L1366.73 332.10A24.63 24.63 0 0 1 1366.26 336.90L1354.18 334.50A12.31 12.31 0 0 0 1354.41 332.10Z" fill="#d8c8b6"/>
<path d="M1366.73 332.10L1379.04 332.10A36.94 36.94 0 0 1 1378.33 339.31L1366.26 336.90A24.63 24.63 0 0 0 1366.73 332.10Z" fill="#e6e2e3"/>
<path d="M1366.26 336.90L1378.33 339.31A36.94 36.94 0 0 1 1376.23 346.24L1364.85 341.52A24.63 24.63 0 0 0 1366.26 336.90Z" fill="#e3dedb"/>
<path d="M1352.34 338.94L1362.58 345.78A24.63 24.63 0 0 1 1359.51 349.51L1350.81 340.81A12.31 12.31 0 0 0 1352.34 338.94Z" fill="#e5e0e0"/>
<path d="M1350.81 340.81L1359.51 349.51A24.63 24.63 0 0 1 1355.78 352.58L1348.94 342.34A12.31 12.31 0 0 0 1350.81 340.81Z" fill="#d8c8b6"/>
<path d="M1359.51 349.51L1368.22 358.22A36.94 36.94 0 0 1 1362.62 362.82L1355.78 352.58A24.63 24.63 0 0 0 1359.51 349.51Z" fill="#dcd2c8"/>
<path d="M1346.81 343.48L1351.52 354.85A24.63 24.63 0 0 1 1346.90 356.26L1344.50 344.18A12.31 12.31 0 0 0 1346.81 343.48Z" fill="#e5e0e0"/>
<path d="M1351.52 354.85L1356.24 366.23A36.94 36.94 0 0 1 1349.31 368.33L1346.90 356.26A24.63 24.63 0 0 0 1351.52 354.85Z" fill="#d8c8b6"/>
<path d="M1344.50 344.18L1346.90 356.26A24.63 24.63 0 0 1 1342.10 356.73L1342.10 344.41A12.31 12.31 0 0 0 1344.50 344.18Z" fill="#c7b890"/>
<path d="M1346.90 356.26L1349.31 368.33A36.94 36.94 0 0 1 1342.10 369.04L1342.10 356.73A24.63 24.63 0 0 0 1346.90 356.26Z" fill="#d8c8b6"/>
<path d="M1349.31 368.33L1351.71 380.41A49.26 49.26 0 0 1 1342.10 381.36L1342.10 369.04A36.94 36.94 0 0 0 1349.31 368.33Z" fill="#e2dcd8"/>
<path d="M1354.11 392.49L1356.51 404.57A73.89 73.89 0 0 1 1342.10 405.99L1342.10 393.67A61.57 61.57 0 0 0 1354.11 392.49Z" fill="#e5e0e0"/>
<path d="M1342.10 344.41L1342.10 356.73A24.63 24.63 0 0 1 1337.30 356.26L1339.70 344.18A12.31 12.31 0 0 0 1342.10 344.41Z" fill="#d5c2a8"/>
<path d="M1342.10 356.73L1342.10 369.04A36.94 36.94 0 0 1 1334.89 368.33L1337.30 356.26A24.63 24.63 0 0 0 1342.10 356.73Z" fill="#d2bea0"/>
<path d="M1342.10 369.04L1342.10 381.36A49.26 49.26 0 0 1 1332.49 380.41L1334.89 368.33A36.94 36.94 0 0 0 1342.10 369.04Z" fill="#9eab81"/>
<path d="M1342.10 381.36L1342.10 393.67A61.57 61.57 0 0 1 1330.09 392.49L1332.49 380.41A49.26 49.26 0 0 0 1342.10 381.36Z" fill="#d0bc9a"/>
<path d="M1342.10 393.67L1342.10 405.99A73.89 73.89 0 0 1 1327.69 404.57L1330.09 392.49A61.57 61.57 0 0 0 1342.10 393.67Z" fill="#dbcfc4"/>
<path d="M1339.70 344.18L1337.30 356.26A24.63 24.63 0 0 1 1332.68 354.85L1337.39 343.48A12.31 12.31 0 0 0 1339.70 344.18Z" fill="#dbcfc4"/>
<path d="M1337.30 356.26L1334.89 368.33A36.94 36.94 0 0 1 1327.96 366.23L1332.68 354.85A24.63 24.63 0 0 0 1337.30 356.26Z" fill="#b2b288"/>
<path d="M1334.89 368.33L1332.49 380.41A49.26 49.26 0 0 1 1323.25 377.61L1327.96 366.23A36.94 36.94 0 0 0 1334.89 368.33Z" fill="#0b7870"/>
<path d="M1332.49 380.41L1330.09 392.49A61.57 61.57 0 0 1 1318.54 388.98L1323.25 377.61A49.26 49.26 0 0 0 1332.49 380.41Z" fill="#458f70"/>
<path d="M1330.09 392.49L1327.69 404.57A73.89 73.89 0 0 1 1313.83 400.36L1318.54 388.98A61.57 61.57 0 0 0 1330.09 392.49Z" fill="#9cab80"/>
<path d="M1327.69 404.57L1325.28 416.64A86.20 86.20 0 0 1 1309.11 411.74L1313.83 400.36A73.89 73.89 0 0 0 1327.69 404.57Z" fill="#d0bc9a"/>
<path d="M1325.28 416.64L1322.88 428.72A98.51 98.51 0 0 1 1304.40 423.11L1309.11 411.74A86.20 86.20 0 0 0 1325.28 416.64Z" fill="#e2dcd8"/>
<path d="M1322.88 428.72L1320.48 440.80A110.83 110.83 0 0 1 1299.69 434.49L1304.40 423.11A98.51 98.51 0 0 0 1322.88 428.72Z" fill="#e6e2e3"/>
<path d="M1332.68 354.85L1327.96 366.23A36.94 36.94 0 0 1 1321.58 362.82L1328.42 352.58A24.63 24.63 0 0 0 1332.68 354.85Z" fill="#e6e2e3"/>
<path d="M1327.96 366.23L1323.25 377.61A49.26 49.26 0 0 1 1314.73 373.06L1321.58 362.82A36.94 36.94 0 0 0 1327.96 366.23Z" fill="#b6b389"/>
<path d="M1323.25 377.61L1318.54 388.98A61.57 61.57 0 0 1 1307.89 383.29L1314.73 373.06A49.26 49.26 0 0 0 1323.25 377.61Z" fill="#0d7970"/>
<path d="M1318.54 388.98L1313.83 400.36A73.89 73.89 0 0 1 1301.05 393.53L1307.89 383.29A61.57 61.57 0 0 0 1318.54 388.98Z" fill="#097570"/>
<path d="M1313.83 400.36L1309.11 411.74A86.20 86.20 0 0 1 1294.21 403.77L1301.05 393.53A73.89 73.89 0 0 0 1313.83 400.36Z" fill="#0f7c70"/>
<path d="M1309.11 411.74L1304.40 423.11A98.51 98.51 0 0 1 1287.37 414.01L1294.21 403.77A86.20 86.20 0 0 0 1309.11 411.74Z" fill="#066c6e"/>
<path d="M1304.40 423.11L1299.69 434.49A110.83 110.83 0 0 1 1280.53 424.25L1287.37 414.01A98.51 98.51 0 0 0 1304.40 423.11Z" fill="#d2bea0"/>
<path d="M1299.69 434.49L1294.98 445.87A123.14 123.14 0 0 1 1273.69 434.49L1280.53 424.25A110.83 110.83 0 0 0 1299.69 434.49Z" fill="#d2bea0"/>
<path d="M1294.98 445.87L1290.26 457.25A135.46 135.46 0 0 1 1266.84 444.73L1273.69 434.49A123.14 123.14 0 0 0 1294.98 445.87Z" fill="#e2dcd8"/>
<path d="M1328.42 352.58L1321.58 362.82A36.94 36.94 0 0 1 1315.98 358.22L1324.69 349.51A24.63 24.63 0 0 0 1328.42 352.58Z" fill="#5e9673"/>
<path d="M1321.58 362.82L1314.73 373.06A49.26 49.26 0 0 1 1307.27 366.93L1315.98 358.22A36.94 36.94 0 0 0 1321.58 362.82Z" fill="#d8c8b6"/>
<path d="M1314.73 373.06L1307.89 383.29A61.57 61.57 0 0 1 1298.56 375.64L1307.27 366.93A49.26 49.26 0 0 0 1314.73 373.06Z" fill="#9eab81"/>
<path d="M1307.89 383.29L1301.05 393.53A73.89 73.89 0 0 1 1289.86 384.34L1298.56 375.64A61.57 61.57 0 0 0 1307.89 383.29Z" fill="#198070"/>
<path d="M1301.05 393.53L1294.21 403.77A86.20 86.20 0 0 1 1281.15 393.05L1289.86 384.34A73.89 73.89 0 0 0 1301.05 393.53Z" fill="#9eab81"/>
<path d="M1294.21 403.77L1287.37 414.01A98.51 98.51 0 0 1 1272.44 401.76L1281.15 393.05A86.20 86.20 0 0 0 1294.21 403.77Z" fill="#d0bc9a"/>
<path d="M1287.37 414.01L1280.53 424.25A110.83 110.83 0 0 1 1263.73 410.47L1272.44 401.76A98.51 98.51 0 0 0 1287.37 414.01Z" fill="#d3c0a2"/>
<path d="M1280.53 424.25L1273.69 434.49A123.14 123.14 0 0 1 1255.03 419.17L1263.73 410.47A110.83 110.83 0 0 0 1280.53 424.25Z" fill="#b6b389"/>
<path d="M1273.69 434.49L1266.84 444.73A135.46 135.46 0 0 1 1246.32 427.88L1255.03 419.17A123.14 123.14 0 0 0 1273.69 434.49Z" fill="#e5e0e0"/>
<path d="M1324.69 349.51L1315.98 358.22A36.94 36.94 0 0 1 1311.38 352.62L1321.62 345.78A24.63 24.63 0 0 0 1324.69 349.51Z" fill="#d8c8b6"/>
<path d="M1315.98 358.22L1307.27 366.93A49.26 49.26 0 0 1 1301.14 359.47L1311.38 352.62A36.94 36.94 0 0 0 1315.98 358.22Z" fill="#9aaa80"/>
<path d="M1298.56 375.64L1289.86 384.34A73.89 73.89 0 0 1 1280.67 373.15L1290.91 366.31A61.57 61.57 0 0 0 1298.56 375.64Z" fill="#e3dedb"/>
<path d="M1289.86 384.34L1281.15 393.05A86.20 86.20 0 0 1 1270.43 379.99L1280.67 373.15A73.89 73.89 0 0 0 1289.86 384.34Z" fill="#e6e2e3"/>
<path d="M1281.15 393.05L1272.44 401.76A98.51 98.51 0 0 1 1260.19 386.83L1270.43 379.99A86.20 86.20 0 0 0 1281.15 393.05Z" fill="#e6e2e3"/>
<path d="M1272.44 401.76L1263.73 410.47A110.83 110.83 0 0 1 1249.95 393.67L1260.19 386.83A98.51 98.51 0 0 0 1272.44 401.76Z" fill="#ccba96"/>
<path d="M1263.73 410.47L1255.03 419.17A123.14 123.14 0 0 1 1239.71 400.51L1249.95 393.67A110.83 110.83 0 0 0 1263.73 410.47Z" fill="#9eab81"/>
<path d="M1246.32 427.88L1237.61 436.59A147.77 147.77 0 0 1 1219.23 414.20L1229.47 407.36A135.46 135.46 0 0 0 1246.32 427.88Z" fill="#e2dcd8"/>
<path d="M1237.61 436.59L1228.90 445.30A160.08 160.08 0 0 1 1208.99 421.04L1219.23 414.20A147.77 147.77 0 0 0 1237.61 436.59Z" fill="#e5e0e0"/>
<path d="M1301.14 359.47L1290.91 366.31A61.57 61.57 0 0 1 1285.22 355.66L1296.59 350.95A49.26 49.26 0 0 0 1301.14 359.47Z" fill="#e6e2e3"/>
<path d="M1290.91 366.31L1280.67 373.15A73.89 73.89 0 0 1 1273.84 360.37L1285.22 355.66A61.57 61.57 0 0 0 1290.91 366.31Z" fill="#daccbe"/>
<path d="M1270.43 379.99L1260.19 386.83A98.51 98.51 0 0 1 1251.09 369.80L1262.46 365.09A86.20 86.20 0 0 0 1270.43 379.99Z" fill="#e3dedb"/>
<path d="M1239.71 400.51L1229.47 407.36A135.46 135.46 0 0 1 1216.95 383.94L1228.33 379.22A123.14 123.14 0 0 0 1239.71 400.51Z" fill="#e6e2e3"/>
<path d="M1319.35 341.52L1307.97 346.24A36.94 36.94 0 0 1 1305.87 339.31L1317.94 336.90A24.63 24.63 0 0 0 1319.35 341.52Z" fill="#d5c2a8"/>
<path d="M1307.97 346.24L1296.59 350.95A49.26 49.26 0 0 1 1293.79 341.71L1305.87 339.31A36.94 36.94 0 0 0 1307.97 346.24Z" fill="#ded6ce"/>
<path d="M1317.94 336.90L1305.87 339.31A36.94 36.94 0 0 1 1305.16 332.10L1317.47 332.10A24.63 24.63 0 0 0 1317.94 336.90Z" fill="#e8e5e8"/>
<path d="M1293.79 341.71L1281.71 344.11A61.57 61.57 0 0 1 1280.53 332.10L1292.84 332.10A49.26 49.26 0 0 0 1293.79 341.71Z" fill="#e2dcd8"/>
<path d="M1317.94 327.30L1305.87 324.89A36.94 36.94 0 0 1 1307.97 317.96L1319.35 322.68A24.63 24.63 0 0 0 1317.94 327.30Z" fill="#dbcfc4"/>
<path d="M1330.72 327.39L1319.35 322.68A24.63 24.63 0 0 1 1321.62 318.42L1331.86 325.26A12.31 12.31 0 0 0 1330.72 327.39Z" fill="#e3dedb"/>
<path d="M1319.35 322.68L1307.97 317.96A36.94 36.94 0 0 1 1311.38 311.58L1321.62 318.42A24.63 24.63 0 0 0 1319.35 322.68Z" fill="#e6e2e3"/>
<path d="M1329.79 332.10L1317.47 332.10A24.63 24.63 0 0 1 1317.94 327.30L1330.02 329.70A12.31 12.31 0 0 0 1329.79 332.10Z" fill="#e2dcd8"/>
<path d="M1317.47 332.10L1305.16 332.10A36.94 36.94 0 0 1 1305.87 324.89L1317.94 327.30A24.63 24.63 0 0 0 1317.47 332.10Z" fill="#e7e3e5"/>
<path d="M1332.68 309.35L1327.96 297.97A36.94 36.94 0 0 1 1334.89 295.87L1337.30 307.94A24.63 24.63 0 0 0 1332.68 309.35Z" fill="#dbcfc4"/>
<path d="M1331.86 325.26L1321.62 318.42A24.63 24.63 0 0 1 1324.69 314.69L1333.39 323.39A12.31 12.31 0 0 0 1331.86 325.26Z" fill="#e5e0e0"/>
<path d="M1328.42 311.62L1321.58 301.38A36.94 36.94 0 0 1 1327.96 297.97L1332.68 309.35A24.63 24.63 0 0 0 1328.42 311.62Z" fill="#e5e0e0"/>
<path d="M1321.58 301.38L1314.73 291.14A49.26 49.26 0 0 1 1323.25 286.59L1327.96 297.97A36.94 36.94 0 0 0 1321.58 301.38Z" fill="#e6e2e3"/>
<path d="M1339.70 320.02L1337.30 307.94A24.63 24.63 0 0 1 1342.10 307.47L1342.10 319.79A12.31 12.31 0 0 0 1339.70 320.02Z" fill="#cbba94"/>
<path d="M1337.30 307.94L1334.89 295.87A36.94 36.94 0 0 1 1342.10 295.16L1342.10 307.47A24.63 24.63 0 0 0 1337.30 307.94Z" fill="#dbcfc4"/>
<path d="M1334.89 295.87L1332.49 283.79A49.26 49.26 0 0 1 1342.10 282.84L1342.10 295.16A36.94 36.94 0 0 0 1334.89 295.87Z" fill="#dbcfc4"/>
<path d="M1332.49 283.79L1330.09 271.71A61.57 61.57 0 0 1 1342.10 270.53L1342.10 282.84A49.26 49.26 0 0 0 1332.49 283.79Z" fill="#e5e0e0"/>
<path d="M1342.10 332.10L1342.10 319.79A12.31 12.31 0 0 1 1344.50 320.02L1342.10 332.10Z" fill="#e9e7ea"/>
<path d="M1342.10 332.10L1344.50 320.02A12.31 12.31 0 0 1 1346.81 320.72L1342.10 332.10Z" fill="#e9e7ea"/>
<path d="M1342.10 332.10L1346.81 320.72A12.31 12.31 0 0 1 1348.94 321.86L1342.10 332.10Z" fill="#e9e7ea"/>
<path d="M1342.10 332.10L1348.94 321.86A12.31 12.31 0 0 1 1350.81 323.39L1342.10 332.10Z" fill="#e9e7ea"/>
<path d="M1342.10 332.10L1350.81 323.39A12.31 12.31 0 0 1 1352.34 325.26L1342.10 332.10Z" fill="#e9e7ea"/>
<path d="M1342.10 332.10L1352.34 325.26A12.31 12.31 0 0 1 1353.48 327.39L1342.10 332.10Z" fill="#e9e7ea"/>
<path d="M1342.10 332.10L1353.48 327.39A12.31 12.31 0 0 1 1354.18 329.70L1342.10 332.10Z" fill="#e9e7ea"/>
<path d="M1342.10 332.10L1354.18 329.70A12.31 12.31 0 0 1 1354.41 332.10L1342.10 332.10Z" fill="#e9e7ea"/>
<path d="M1342.10 332.10L1354.41 332.10A12.31 12.31 0 0 1 1354.18 334.50L1342.10 332.10Z" fill="#e9e7ea"/>
<path d="M1342.10 332.10L1354.18 334.50A12.31 12.31 0 0 1 1353.48 336.81L1342.10 332.10Z" fill="#e9e7ea"/>
<path d="M1342.10 332.10L1353.48 336.81A12.31 12.31 0 0 1 1352.34 338.94L1342.10 332.10Z" fill="#e9e7ea"/>
<path d="M1342.10 332.10L1352.34 338.94A12.31 12.31 0 0 1 1350.81 340.81L1342.10 332.10Z" fill="#e9e7ea"/>
<path d="M1342.10 332.10L1350.81 340.81A12.31 12.31 0 0 1 1348.94 342.34L1342.10 332.10Z" fill="#e9e7ea"/>
<path d="M1342.10 332.10L1348.94 342.34A12.31 12.31 0 0 1 1346.81 343.48L1342.10 332.10Z" fill="#e9e7ea"/>
<path d="M1342.10 332.10L1346.81 343.48A12.31 12.31 0 0 1 1344.50 344.18L1342.10 332.10Z" fill="#e9e7ea"/>
<path d="M1342.10 332.10L1344.50 344.18A12.31 12.31 0 0 1 1342.10 344.41L1342.10 332.10Z" fill="#e9e7ea"/>
<path d="M1342.10 332.10L1342.10 344.41A12.31 12.31 0 0 1 1339.70 344.18L1342.10 332.10Z" fill="#e9e7ea"/>
<path d="M1342.10 332.10L1339.70 344.18A12.31 12.31 0 0 1 1337.39 343.48L1342.10 332.10Z" fill="#e9e7ea"/>
<path d="M1342.10 332.10L1337.39 343.48A12.31 12.31 0 0 1 1335.26 342.34L1342.10 332.10Z" fill="#e9e7ea"/>
<path d="M1342.10 332.10L1335.26 342.34A12.31 12.31 0 0 1 1333.39 340.81L1342.10 332.10Z" fill="#e9e7ea"/>
<path d="M1342.10 332.10L1333.39 340.81A12.31 12.31 0 0 1 1331.86 338.94L1342.10 332.10Z" fill="#e9e7ea"/>
<path d="M1342.10 332.10L1331.86 338.94A12.31 12.31 0 0 1 1330.72 336.81L1342.10 332.10Z" fill="#e9e7ea"/>
<path d="M1342.10 332.10L1330.72 336.81A12.31 12.31 0 0 1 1330.02 334.50L1342.10 332.10Z" fill="#e9e7ea"/>
<path d="M1342.10 332.10L1330.02 334.50A12.31 12.31 0 0 1 1329.79 332.10L1342.10 332.10Z" fill="#e9e7ea"/>
<path d="M1342.10 332.10L1329.79 332.10A12.31 12.31 0 0 1 1330.02 329.70L1342.10 332.10Z" fill="#e9e7ea"/>
<path d="M1342.10 332.10L1330.02 329.70A12.31 12.31 0 0 1 1330.72 327.39L1342.10 332.10Z" fill="#e9e7ea"/>
<path d="M1342.10 332.10L1330.72 327.39A12.31 12.31 0 0 1 1331.86 325.26L1342.10 332.10Z" fill="#e9e7ea"/>
<path d="M1342.10 332.10L1331.86 325.26A12.31 12.31 0 0 1 1333.39 323.39L1342.10 332.10Z" fill="#e9e7ea"/>
<path d="M1342.10 332.10L1333.39 323.39A12.31 12.31 0 0 1 1335.26 321.86L1342.10 332.10Z" fill="#e9e7ea"/>
<path d="M1342.10 332.10L1335.26 321.86A12.31 12.31 0 0 1 1337.39 320.72L1342.10 332.10Z" fill="#e9e7ea"/>
<path d="M1342.10 332.10L1337.39 320.72A12.31 12.31 0 0 1 1339.70 320.02L1342.10 332.10Z" fill="#e9e7ea"/>
<path d="M1342.10 332.10L1339.70 320.02A12.31 12.31 0 0 1 1342.10 319.79L1342.10 332.10Z" fill="#e9e7ea"/>
<path d="M1324.69 314.69L1315.98 305.98A36.94 36.94 0 0 1 1321.58 301.38L1328.42 311.62A24.63 24.63 0 0 0 1324.69 314.69Z" fill="#e2dcd8"/>
<path d="M1330.72 336.81L1319.35 341.52A24.63 24.63 0 0 1 1317.94 336.90L1330.02 334.50A12.31 12.31 0 0 0 1330.72 336.81Z" fill="#e3dedb"/>
<path d="M1321.62 345.78L1311.38 352.62A36.94 36.94 0 0 1 1307.97 346.24L1319.35 341.52A24.63 24.63 0 0 0 1321.62 345.78Z" fill="#dcd2c8"/>
<path d="M1333.39 340.81L1324.69 349.51A24.63 24.63 0 0 1 1321.62 345.78L1331.86 338.94A12.31 12.31 0 0 0 1333.39 340.81Z" fill="#dbcfc4"/>
<path d="M1337.39 343.48L1332.68 354.85A24.63 24.63 0 0 1 1328.42 352.58L1335.26 342.34A12.31 12.31 0 0 0 1337.39 343.48Z" fill="#d2bea0"/>
<path d="M1335.26 342.34L1328.42 352.58A24.63 24.63 0 0 1 1324.69 349.51L1333.39 340.81A12.31 12.31 0 0 0 1335.26 342.34Z" fill="#d2bea0"/>
<path d="M1348.94 342.34L1355.78 352.58A24.63 24.63 0 0 1 1351.52 354.85L1346.81 343.48A12.31 12.31 0 0 0 1348.94 342.34Z" fill="#e5e0e0"/>
<path d="M1353.48 336.81L1364.85 341.52A24.63 24.63 0 0 1 1362.58 345.78L1352.34 338.94A12.31 12.31 0 0 0 1353.48 336.81Z" fill="#dbcfc4"/>
<path d="M1354.18 334.50L1366.26 336.90A24.63 24.63 0 0 1 1364.85 341.52L1353.48 336.81A12.31 12.31 0 0 0 1354.18 334.50Z" fill="#e2dcd8"/>
<path d="M1337.39 320.72L1332.68 309.35A24.63 24.63 0 0 1 1337.30 307.94L1339.70 320.02A12.31 12.31 0 0 0 1337.39 320.72Z" fill="#e5e0e0"/>
<path d="M1327.96 297.97L1323.25 286.59A49.26 49.26 0 0 1 1332.49 283.79L1334.89 295.87A36.94 36.94 0 0 0 1327.96 297.97Z" fill="#e2dcd8"/>
</g>
<circle cx="1342.1" cy="332.1" r="53.17" fill="none" stroke="#b0b0b0" stroke-width="1.15"/>
<circle cx="1342.1" cy="332.1" r="106.35" fill="none" stroke="#b0b0b0" stroke-width="1.15"/>
<circle cx="1342.1" cy="332.1" r="159.52" fill="none" stroke="#b0b0b0" stroke-width="1.15"/>
<circle cx="1342.1" cy="332.1" r="212.70" fill="none" stroke="#b0b0b0" stroke-width="1.15"/>
<line x1="1107.70" y1="332.5" x2="1576.50" y2="332.5" stroke="#b0b0b0" stroke-width="1.15"/>
<line x1="1342.5" y1="97.70" x2="1342.5" y2="566.50" stroke="#b0b0b0" stroke-width="1.15"/>
<line x1="1342.1" y1="332.1" x2="1507.85" y2="166.35" stroke="#b0b0b0" stroke-width="1.15"/>
<line x1="1342.1" y1="332.1" x2="1507.85" y2="497.85" stroke="#b0b0b0" stroke-width="1.15"/>
<line x1="1342.1" y1="332.1" x2="1176.35" y2="497.85" stroke="#b0b0b0" stroke-width="1.15"/>
<line x1="1342.1" y1="332.1" x2="1176.35" y2="166.35" stroke="#b0b0b0" stroke-width="1.15"/>
<circle cx="1342.1" cy="332.1" r="234.4" fill="none" stroke="#000" stroke-width="1.6"/>
<text x="1341.8999999999999" y="61.0" font-size="25.5" text-anchor="middle" textLength="182.5" lengthAdjust="spacingAndGlyphs">CIOFS-NWGOA</text>
<text x="1342.55" y="83.9" font-size="19.6" text-anchor="middle">N</text>
<text x="1342.6999999999998" y="591.8" font-size="19.6" text-anchor="middle">S</text>
<text x="1596.3" y="338.0" font-size="19.6" text-anchor="middle">E</text>
<text x="1089.1999999999998" y="337.7" font-size="19.6" text-anchor="middle">W</text>
<text x="1406.1999999999998" y="307.7" font-size="19.6" text-anchor="middle" textLength="28.6" lengthAdjust="spacingAndGlyphs">0.5</text>
<text x="1455.6" y="287.7" font-size="19.6" text-anchor="middle" textLength="28.6" lengthAdjust="spacingAndGlyphs">1.0</text>
<text x="1504.6499999999999" y="267" font-size="19.6" text-anchor="middle" textLength="28.6" lengthAdjust="spacingAndGlyphs">1.5</text>
<text x="1553.3" y="247" font-size="19.6" text-anchor="middle" textLength="28.6" lengthAdjust="spacingAndGlyphs">2.0</text>
<defs><linearGradient id="cb" x1="0" x2="1" y1="0" y2="0"><stop offset="0.0000" stop-color="#eeedf2"/><stop offset="0.0400" stop-color="#e8e5e8"/><stop offset="0.0800" stop-color="#e2dcd8"/><stop offset="0.1200" stop-color="#dbcfc4"/><stop offset="0.1600" stop-color="#d5c2a8"/><stop offset="0.1800" stop-color="#d0bc9a"/><stop offset="0.2000" stop-color="#c7b890"/><stop offset="0.2400" stop-color="#bbb58b"/><stop offset="0.2932" stop-color="#a3ad83"/><stop offset="0.3440" stop-color="#8fa77c"/><stop offset="0.4000" stop-color="#7aa077"/><stop offset="0.4480" stop-color="#5e9673"/><stop offset="0.4800" stop-color="#4a9170"/><stop offset="0.5160" stop-color="#358a6f"/><stop offset="0.5440" stop-color="#2a866f"/><stop offset="0.6000" stop-color="#0f7c70"/><stop offset="0.6460" stop-color="#067270"/><stop offset="0.6800" stop-color="#066a6d"/><stop offset="0.7140" stop-color="#0f5f68"/><stop offset="0.7640" stop-color="#1d5160"/><stop offset="0.8000" stop-color="#1e4d5f"/><stop offset="0.8440" stop-color="#23435a"/><stop offset="0.8960" stop-color="#263651"/><stop offset="0.9480" stop-color="#242b47"/><stop offset="1.0000" stop-color="#231c3a"/></linearGradient></defs>
<rect x="406.3" y="605.6" width="800" height="29.5" fill="url(#cb)" stroke="#000" stroke-width="1.15"/>
<line x1="406.3" y1="635" x2="406.3" y2="657.3" stroke="#000" stroke-width="1.15"/>
<text x="406.3" y="680.8" font-size="23.5" text-anchor="middle">0</text>
<line x1="566.3" y1="635" x2="566.3" y2="657.3" stroke="#000" stroke-width="1.15"/>
<text x="566.3" y="680.8" font-size="23.5" text-anchor="middle">5</text>
<line x1="726.3" y1="635" x2="726.3" y2="657.3" stroke="#000" stroke-width="1.15"/>
<text x="726.3" y="680.8" font-size="23.5" text-anchor="middle">10</text>
<line x1="886.3" y1="635" x2="886.3" y2="657.3" stroke="#000" stroke-width="1.15"/>
<text x="886.3" y="680.8" font-size="23.5" text-anchor="middle">15</text>
<line x1="1046.3" y1="635" x2="1046.3" y2="657.3" stroke="#000" stroke-width="1.15"/>
<text x="1046.3" y="680.8" font-size="23.5" text-anchor="middle">20</text>
<line x1="1206.3" y1="635" x2="1206.3" y2="657.3" stroke="#000" stroke-width="1.15"/>
<text x="1206.3" y="680.8" font-size="23.5" text-anchor="middle">25</text>
<text x="805.2" y="708.5" font-size="22.4" text-anchor="middle" textLength="566" lengthAdjust="spacingAndGlyphs">Currents [m/s] at COI0516; number of occurrences</text>
</svg></body></html>
